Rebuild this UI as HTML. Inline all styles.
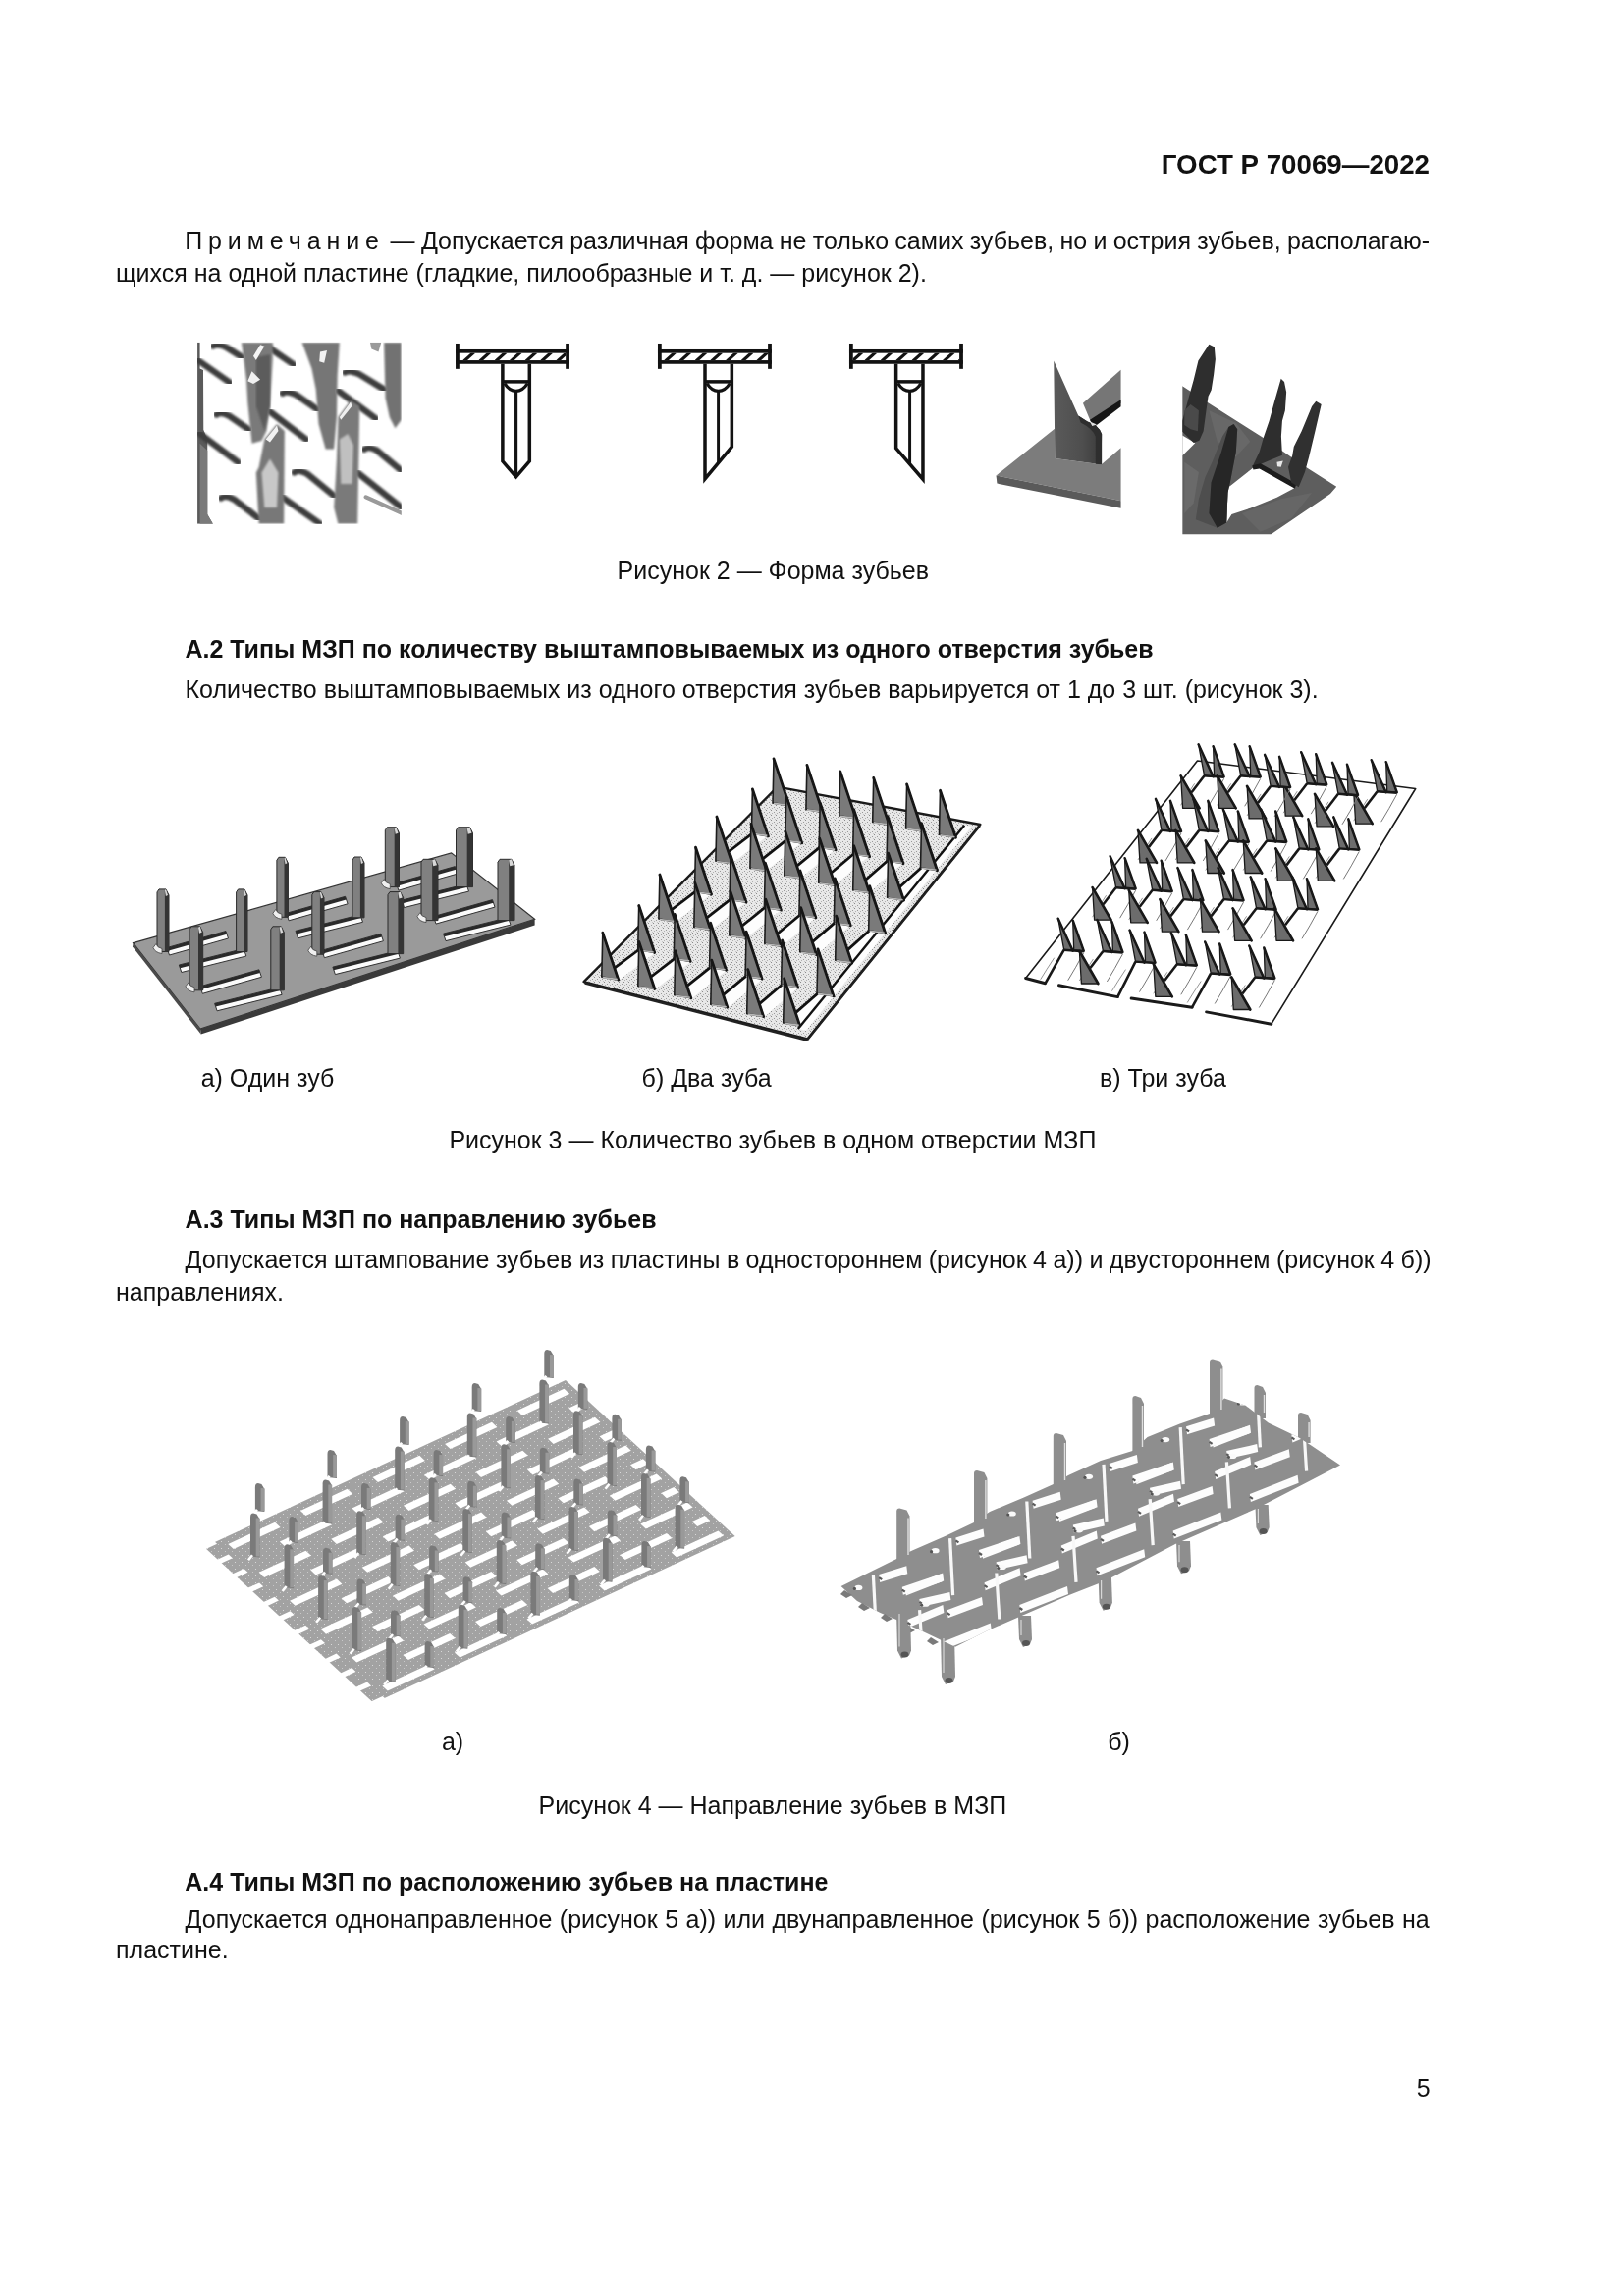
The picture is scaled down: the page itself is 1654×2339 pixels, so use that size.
<!DOCTYPE html>
<html lang="ru">
<head>
<meta charset="utf-8">
<style>
html,body{margin:0;padding:0;background:#fff;}
body{width:1654px;height:2339px;position:relative;overflow:hidden;font-family:"Liberation Sans",sans-serif;color:#111;filter:grayscale(1);}
.t{position:absolute;white-space:nowrap;font-size:25px;line-height:normal;}
.b{font-weight:bold;}
.j{text-align:justify;text-align-last:justify;white-space:normal;}
.sp{letter-spacing:7.6px;}
svg{position:absolute;overflow:visible;}
</style>
</head>
<body>
<!-- header -->
<div class="t b" id="hdr" style="font-size:27.7px;right:198px;top:151.8px;">ГОСТ Р 70069—2022</div>

<!-- note paragraph -->
<div class="t" id="p1" style="left:188.2px;top:231.4px;letter-spacing:5.89px;">Примечание</div>
<div class="t" id="p1b" style="left:397.6px;top:231.4px;word-spacing:-0.658px;">— Допускается различная форма не только самих зубьев, но и острия зубьев, располагаю-</div>
<div class="t" id="p2" style="left:118px;top:264.2px;">щихся на одной пластине (гладкие, пилообразные и т. д. — рисунок 2).</div>

<!-- FIG2 -->
<svg style="left:190px;top:340px" width="230" height="210" viewBox="0 0 1624 1483" preserveAspectRatio="none"><defs><clipPath id="ph1"><rect x="78" y="62" width="1467" height="1306"/></clipPath><filter id="bl1" x="-5%" y="-5%" width="110%" height="110%"><feGaussianBlur stdDeviation="6"/></filter></defs><g clip-path="url(#ph1)"><path d="M78,62 L96,62 L96,250 L120,262 L122,690 L150,760 L150,1300 L190,1368 L78,1368 Z" fill="#5a5a5a"/><path d="M96,790 L150,840 L150,1300 L190,1368 L96,1368 Z" fill="#7a7a7a"/><path d="M190,88 Q225,68 290,100 L400,170" fill="none" stroke="#3c3c3c" stroke-width="46" stroke-linecap="round" filter="url(#bl1)"/><path d="M560,78 L770,222" fill="none" stroke="#3c3c3c" stroke-width="46" stroke-linecap="round" filter="url(#bl1)"/><path d="M80,190 L310,350" fill="none" stroke="#3c3c3c" stroke-width="46" stroke-linecap="round" filter="url(#bl1)"/><path d="M690,428 Q720,405 790,440 L940,545" fill="none" stroke="#3c3c3c" stroke-width="46" stroke-linecap="round" filter="url(#bl1)"/><path d="M1140,278 Q1170,258 1240,290 L1420,400" fill="none" stroke="#3c3c3c" stroke-width="46" stroke-linecap="round" filter="url(#bl1)"/><path d="M215,582 Q245,558 305,590 L450,690" fill="none" stroke="#3c3c3c" stroke-width="46" stroke-linecap="round" filter="url(#bl1)"/><path d="M600,560 L860,760" fill="none" stroke="#3c3c3c" stroke-width="46" stroke-linecap="round" filter="url(#bl1)"/><path d="M1090,410 L1360,610" fill="none" stroke="#3c3c3c" stroke-width="46" stroke-linecap="round" filter="url(#bl1)"/><path d="M95,720 L370,925" fill="none" stroke="#3c3c3c" stroke-width="46" stroke-linecap="round" filter="url(#bl1)"/><path d="M775,998 Q805,972 870,1010 L1060,1165" fill="none" stroke="#3c3c3c" stroke-width="46" stroke-linecap="round" filter="url(#bl1)"/><path d="M1278,832 Q1305,805 1370,840 L1545,985" fill="none" stroke="#3c3c3c" stroke-width="46" stroke-linecap="round" filter="url(#bl1)"/><path d="M248,1182 Q275,1155 340,1190 L520,1330" fill="none" stroke="#3c3c3c" stroke-width="46" stroke-linecap="round" filter="url(#bl1)"/><path d="M680,1170 L960,1368" fill="none" stroke="#3c3c3c" stroke-width="46" stroke-linecap="round" filter="url(#bl1)"/><path d="M1230,1000 L1545,1250" fill="none" stroke="#3c3c3c" stroke-width="46" stroke-linecap="round" filter="url(#bl1)"/><path d="M1290,1175 L1545,1290" fill="none" stroke="#9a9a9a" stroke-width="30" stroke-linecap="round"/><path d="M395,62 L620,62 L620,180 L600,520 L575,700 L540,770 L470,790 L440,500 L430,330 Z" fill="#7a7a7a" filter="url(#bl1)"/><path d="M500,170 L600,150 L600,520 L560,700 L500,520 Z" fill="#5c5c5c" filter="url(#bl1)"/><path d="M440,340 L470,270 L530,330 L480,360 Z" fill="#f0f0f0"/><path d="M480,160 L530,80 L560,90 L500,190 Z" fill="#f4f4f4"/><path d="M560,760 L650,650 L705,700 L700,1368 L520,1368 L500,1000 L520,960 Z" fill="#787878" filter="url(#bl1)"/><path d="M540,1000 L600,900 L660,1000 L650,1250 L560,1250 Z" fill="#c8c8c8" filter="url(#bl1)"/><path d="M570,760 L650,660 L660,700 L600,780 Z" fill="#f2f2f2"/><path d="M830,62 L1100,62 L1085,300 L1080,600 L1060,830 L1000,830 L950,650 L930,400 L900,250 Z" fill="#767676" filter="url(#bl1)"/><path d="M960,130 L1010,120 L990,210 L955,200 Z" fill="#f2f2f2"/><path d="M1090,600 L1180,480 L1245,520 L1230,1368 L1090,1368 L1060,1250 L1080,900 Z" fill="#7a7a7a" filter="url(#bl1)"/><path d="M1100,760 L1160,720 L1200,800 L1190,1080 L1110,1080 Z" fill="#c0c0c0" filter="url(#bl1)"/><path d="M1100,600 L1180,490 L1190,520 L1110,620 Z" fill="#f0f0f0"/><path d="M1420,62 L1545,62 L1545,620 L1500,680 L1460,600 L1430,460 Z" fill="#727272" filter="url(#bl1)"/><path d="M1320,62 L1400,62 L1380,130 L1330,110 Z" fill="#9a9a9a"/></g></svg>
<svg style="left:450px;top:340px" width="150" height="160" viewBox="0 0 1624 1732" preserveAspectRatio="none"><rect x="152" y="108" width="41" height="280" fill="#121212"/><rect x="1366" y="108" width="41" height="280" fill="#121212"/><rect x="152" y="173" width="1255" height="40" fill="#121212"/><rect x="152" y="293" width="1255" height="40" fill="#121212"/><clipPath id="hc0"><rect x="193" y="213" width="1173" height="80"/></clipPath><g clip-path="url(#hc0)" stroke="#121212" stroke-width="34"><line x1="245" y1="303" x2="355" y2="203"/><line x1="420" y1="303" x2="530" y2="203"/><line x1="595" y1="303" x2="705" y2="203"/><line x1="760" y1="303" x2="870" y2="203"/><line x1="930" y1="303" x2="1040" y2="203"/><line x1="1100" y1="303" x2="1210" y2="203"/><line x1="1275" y1="303" x2="1385" y2="203"/></g><polyline points="670,333 670,1405 818.5,1578 967,1405 967,333" fill="none" stroke="#121212" stroke-width="38" stroke-linejoin="miter" stroke-miterlimit="10"/><line x1="818.5" y1="630" x2="818.5" y2="1568" stroke="#121212" stroke-width="34"/><line x1="670" y1="529" x2="967" y2="529" stroke="#121212" stroke-width="38"/><path d="M692,548 C732,612 768.5,632 818.5,632 C868.5,632 905,612 945,548" fill="none" stroke="#121212" stroke-width="34"/></svg>
<svg style="left:660px;top:340px" width="150" height="160" viewBox="0 0 1624 1732" preserveAspectRatio="none"><rect x="108" y="108" width="41" height="280" fill="#121212"/><rect x="1322" y="108" width="41" height="280" fill="#121212"/><rect x="108" y="173" width="1255" height="40" fill="#121212"/><rect x="108" y="293" width="1255" height="40" fill="#121212"/><clipPath id="hc1"><rect x="149" y="213" width="1173" height="80"/></clipPath><g clip-path="url(#hc1)" stroke="#121212" stroke-width="34"><line x1="190" y1="303" x2="300" y2="203"/><line x1="355" y1="303" x2="465" y2="203"/><line x1="530" y1="303" x2="640" y2="203"/><line x1="700" y1="303" x2="810" y2="203"/><line x1="870" y1="303" x2="980" y2="203"/><line x1="1040" y1="303" x2="1150" y2="203"/><line x1="1210" y1="303" x2="1320" y2="203"/></g><polyline points="628,333 628,1600 924,1245 924,333" fill="none" stroke="#121212" stroke-width="38" stroke-linejoin="miter" stroke-miterlimit="10"/><line x1="775" y1="630" x2="775" y2="1420" stroke="#121212" stroke-width="32"/><line x1="628" y1="529" x2="924" y2="529" stroke="#121212" stroke-width="38"/><path d="M650,548 C690,612 725,632 775,632 C825,632 862,612 902,548" fill="none" stroke="#121212" stroke-width="34"/></svg>
<svg style="left:855px;top:340px" width="150" height="160" viewBox="0 0 1624 1732" preserveAspectRatio="none"><rect x="108" y="108" width="41" height="280" fill="#121212"/><rect x="1322" y="108" width="41" height="280" fill="#121212"/><rect x="108" y="173" width="1255" height="40" fill="#121212"/><rect x="108" y="293" width="1255" height="40" fill="#121212"/><clipPath id="hc2"><rect x="149" y="213" width="1173" height="80"/></clipPath><g clip-path="url(#hc2)" stroke="#121212" stroke-width="34"><line x1="140" y1="303" x2="250" y2="203"/><line x1="290" y1="303" x2="400" y2="203"/><line x1="465" y1="303" x2="575" y2="203"/><line x1="635" y1="303" x2="745" y2="203"/><line x1="810" y1="303" x2="920" y2="203"/><line x1="980" y1="303" x2="1090" y2="203"/><line x1="1150" y1="303" x2="1260" y2="203"/><line x1="1320" y1="303" x2="1430" y2="203"/></g><polyline points="920,333 920,1605 624,1262 624,333" fill="none" stroke="#121212" stroke-width="38" stroke-linejoin="miter" stroke-miterlimit="10"/><line x1="775" y1="630" x2="775" y2="1430" stroke="#121212" stroke-width="32"/><line x1="624" y1="529" x2="920" y2="529" stroke="#121212" stroke-width="38"/><path d="M646,548 C686,612 725,632 775,632 C825,632 858,612 898,548" fill="none" stroke="#121212" stroke-width="34"/></svg>
<svg style="left:1000px;top:330px" width="380" height="230" viewBox="0 0 1624 983" preserveAspectRatio="none"><defs><linearGradient id="g5t" x1="0" y1="0" x2="1" y2="0"><stop offset="0" stop-color="#5a5a5a"/><stop offset="0.6" stop-color="#4e4e4e"/><stop offset="1" stop-color="#3a3a3a"/></linearGradient></defs><path d="M440,345 L605,200 L605,345 L480,440 Z" fill="#767676"/><path d="M470,418 L605,330 L605,360 L490,448 Z" fill="#161616"/><path d="M62,660 L318,455 L318,585 L520,612 L605,540 L605,770 Z" fill="#7c7c7c"/><path d="M62,660 L605,770 L605,802 L66,695 Z" fill="#5a5a5a"/><path d="M313,160 L318,585 L520,612 L522,480 Q510,440 460,425 L420,400 Z" fill="url(#g5t)"/><path d="M420,400 L460,425 Q510,440 522,480 L522,612 L495,610 L495,490 Q480,455 430,430 Z" fill="#2e2e2e"/><path d="M470,425 L480,445 L500,438 Z" fill="#e0e0e0"/></svg>
<svg style="left:1200px;top:345px" width="170" height="205" viewBox="0 0 1624 1958" preserveAspectRatio="none"><defs><clipPath id="c6"><rect x="40" y="40" width="1520" height="1866"/></clipPath></defs><g clip-path="url(#c6)"><path d="M40,460 L300,630 L820,960 L1240,1250 L1540,1440 L1480,1510 L900,1906 L40,1906 Z" fill="#5e5e5e"/><path d="M300,700 L560,820 L700,1000 L560,1150 L380,1000 Z" fill="#686868"/><path d="M620,1700 L1000,1560 L1300,1500 L1100,1750 L800,1880 Z" fill="#666"/><path d="M60,1200 L200,1300 L150,1600 L60,1700 Z" fill="#6a6a6a"/><path d="M40,940 L165,1015 L40,1140 Z" fill="#fff"/><path d="M485,1450 L730,1255 L790,1250 L1135,1452 L960,1545 L700,1650 L520,1710 L470,1790 Z" fill="#fff"/><path d="M40,905 L40,800 L95,600 L150,400 L195,215 L300,55 L352,80 L362,200 L345,350 L322,500 L292,560 L272,700 L245,900 L205,990 L150,1012 Z" fill="#2e2e2e"/><path d="M60,700 L120,640 L200,700 L190,900 L120,880 L60,840 Z" fill="#4a4a4a"/><path d="M490,860 L540,830 L575,880 L562,1100 L505,1400 L482,1500 L470,1790 L380,1840 L170,1760 L200,1560 L262,1350 L335,1190 L430,950 Z" fill="#4e4e4e"/><path d="M490,860 L540,830 L575,880 L562,1100 L505,1400 L482,1500 L470,1790 L380,1840 L300,1700 L320,1400 L420,1100 Z" fill="#262626"/><path d="M1000,390 L1032,420 L1052,520 L1040,700 L1012,800 L1002,950 L1012,1135 L900,1180 L760,1240 L720,1250 L790,1100 L830,960 L885,800 L940,600 Z" fill="#2e2e2e"/><path d="M720,1235 L800,1215 L1150,1410 L1135,1460 L790,1265 L730,1275 Z" fill="#1c1c1c"/><path d="M960,1200 L1020,1190 L1000,1250 L965,1245 Z" fill="#e8e8e8"/><path d="M1340,610 L1392,640 L1332,900 L1272,1150 L1232,1300 L1172,1445 L1100,1400 L1070,1250 L1110,1140 L1125,1050 L1200,900 L1300,660 Z" fill="#303030"/></g></svg>


<div class="t" id="c2" style="left:628.6px;top:567.4px;">Рисунок 2 — Форма зубьев</div>

<div class="t b" id="h2" style="left:188.4px;top:647px;">А.2 Типы МЗП по количеству выштамповываемых из одного отверстия зубьев</div>
<div class="t" id="p3" style="left:188.5px;top:687.7px;">Количество выштамповываемых из одного отверстия зубьев варьируется от 1 до 3 шт. (рисунок 3).</div>

<!-- FIG3 -->
<svg style="left:120px;top:830px" width="440" height="240" viewBox="120 830 440 240"><polygon points="135.6,960.7 459.6,868.9 544.6,936.2 204.0,1048.1" fill="#9a9a9a" stroke="#333" stroke-width="1.2"/><polygon points="204.0,1048.1 544.6,936.2 544.6,942.5 204.7,1053.5" fill="#3a3a3a"/><polygon points="135.6,960.7 204.0,1048.1 204.7,1053.5 135.0,964.5" fill="#4a4a4a"/><polygon points="170.0,965.5 230.0,948.5 232.5,956.0 172.5,973.0" fill="#fbfbfb" stroke="#333" stroke-width="1" stroke-linejoin="round"/><polygon points="170.0,965.5 230.0,948.5 231.0,951.7 171.0,968.7" fill="#2a2a2a"/><polygon points="182.3,983.0 248.3,966.5 250.8,974.0 184.8,990.5" fill="#fbfbfb" stroke="#333" stroke-width="1" stroke-linejoin="round"/><polygon points="182.3,983.0 248.3,966.5 249.3,969.7 183.3,986.2" fill="#2a2a2a"/><polygon points="203.8,1004.8 263.9,987.8 266.4,995.3 206.3,1012.3" fill="#fbfbfb" stroke="#333" stroke-width="1" stroke-linejoin="round"/><polygon points="203.8,1004.8 263.9,987.8 264.9,991.0 204.8,1008.0" fill="#2a2a2a"/><polygon points="218.6,1022.3 284.6,1005.8 287.1,1013.3 221.1,1029.8" fill="#fbfbfb" stroke="#333" stroke-width="1" stroke-linejoin="round"/><polygon points="218.6,1022.3 284.6,1005.8 285.6,1009.0 219.6,1025.5" fill="#2a2a2a"/><polygon points="291.6,930.3 351.6,913.3 354.1,920.8 294.1,937.8" fill="#fbfbfb" stroke="#333" stroke-width="1" stroke-linejoin="round"/><polygon points="291.6,930.3 351.6,913.3 352.6,916.5 292.6,933.5" fill="#2a2a2a"/><polygon points="301.0,948.3 367.0,931.8 369.5,939.3 303.5,955.8" fill="#fbfbfb" stroke="#333" stroke-width="1" stroke-linejoin="round"/><polygon points="301.0,948.3 367.0,931.8 368.0,935.0 302.0,951.5" fill="#2a2a2a"/><polygon points="327.9,968.2 387.9,951.2 390.4,958.7 330.4,975.7" fill="#fbfbfb" stroke="#333" stroke-width="1" stroke-linejoin="round"/><polygon points="327.9,968.2 387.9,951.2 388.9,954.4 328.9,971.4" fill="#2a2a2a"/><polygon points="338.9,985.1 404.9,968.6 407.4,976.1 341.4,992.6" fill="#fbfbfb" stroke="#333" stroke-width="1" stroke-linejoin="round"/><polygon points="338.9,985.1 404.9,968.6 405.9,971.8 339.9,988.3" fill="#2a2a2a"/><polygon points="403.4,899.6 463.4,882.6 465.9,890.1 405.9,907.1" fill="#fbfbfb" stroke="#333" stroke-width="1" stroke-linejoin="round"/><polygon points="403.4,899.6 463.4,882.6 464.4,885.8 404.4,902.8" fill="#2a2a2a"/><polygon points="409.0,917.1 475.0,900.6 477.5,908.1 411.5,924.6" fill="#fbfbfb" stroke="#333" stroke-width="1" stroke-linejoin="round"/><polygon points="409.0,917.1 475.0,900.6 476.0,903.8 410.0,920.3" fill="#2a2a2a"/><polygon points="441.5,933.6 501.5,916.6 504.0,924.1 444.0,941.1" fill="#fbfbfb" stroke="#333" stroke-width="1" stroke-linejoin="round"/><polygon points="441.5,933.6 501.5,916.6 502.5,919.8 442.5,936.8" fill="#2a2a2a"/><polygon points="451.5,951.1 517.5,934.6 520.0,942.1 454.0,958.6" fill="#fbfbfb" stroke="#333" stroke-width="1" stroke-linejoin="round"/><polygon points="451.5,951.1 517.5,934.6 518.5,937.8 452.5,954.3" fill="#2a2a2a"/><polygon points="160.0,908.9 162.0,905.9 169.0,905.9 172.0,911.9 172.0,969.5 160.0,969.5" fill="#808080" stroke="#2a2a2a" stroke-width="1"/><polygon points="167.9,906.9 169.0,905.9 172.0,911.9 172.0,969.5 167.9,969.5" fill="#343434"/><polygon points="167.9,906.9 169.0,905.9 171.0,911.9 168.9,912.9" fill="#d8d8d8"/><path d="M156,965.5 Q158,970.5 165,971.5 L165,966.5 Q160,965.5 159,961.5 Z" fill="#f0f0f0" stroke="#444" stroke-width="0.8"/><polygon points="240.6,908.9 242.6,905.9 249.0,905.9 252.0,911.9 252.0,969.5 240.6,969.5" fill="#808080" stroke="#2a2a2a" stroke-width="1"/><polygon points="248.1,906.9 249.0,905.9 252.0,911.9 252.0,969.5 248.1,969.5" fill="#343434"/><polygon points="248.1,906.9 249.0,905.9 251.0,911.9 249.1,912.9" fill="#d8d8d8"/><polygon points="193.0,946.8 195.0,943.8 203.7,943.8 206.7,949.8 206.7,1008.8 193.0,1008.8" fill="#808080" stroke="#2a2a2a" stroke-width="1"/><polygon points="202.0,944.8 203.7,943.8 206.7,949.8 206.7,1008.8 202.0,1008.8" fill="#343434"/><polygon points="202.0,944.8 203.7,943.8 205.7,949.8 203.0,950.8" fill="#d8d8d8"/><path d="M189,1004.8 Q191,1009.8 198,1010.8 L198,1005.8 Q193,1004.8 192,1000.8 Z" fill="#f0f0f0" stroke="#444" stroke-width="0.8"/><polygon points="275.8,946.8 277.8,943.8 286.3,943.8 289.3,949.8 289.3,1008.8 275.8,1008.8" fill="#808080" stroke="#2a2a2a" stroke-width="1"/><polygon points="284.7,944.8 286.3,943.8 289.3,949.8 289.3,1008.8 284.7,1008.8" fill="#343434"/><polygon points="284.7,944.8 286.3,943.8 288.3,949.8 285.7,950.8" fill="#d8d8d8"/><polygon points="281.9,876.3 283.9,873.3 290.4,873.3 293.4,879.3 293.4,934.3 281.9,934.3" fill="#808080" stroke="#2a2a2a" stroke-width="1"/><polygon points="289.5,874.3 290.4,873.3 293.4,879.3 293.4,934.3 289.5,934.3" fill="#343434"/><polygon points="289.5,874.3 290.4,873.3 292.4,879.3 290.5,880.3" fill="#d8d8d8"/><path d="M277.9,930.3 Q279.9,935.3 286.9,936.3 L286.9,931.3 Q281.9,930.3 280.9,926.3 Z" fill="#f0f0f0" stroke="#444" stroke-width="0.8"/><polygon points="359.0,876.0 361.0,873.0 368.0,873.0 371.0,879.0 371.0,934.8 359.0,934.8" fill="#808080" stroke="#2a2a2a" stroke-width="1"/><polygon points="366.9,874.0 368.0,873.0 371.0,879.0 371.0,934.8 366.9,934.8" fill="#343434"/><polygon points="366.9,874.0 368.0,873.0 370.0,879.0 367.9,880.0" fill="#d8d8d8"/><polygon points="317.8,911.6 319.8,908.6 327.0,908.6 330.0,914.6 330.0,972.2 317.8,972.2" fill="#808080" stroke="#2a2a2a" stroke-width="1"/><polygon points="325.9,909.6 327.0,908.6 330.0,914.6 330.0,972.2 325.9,972.2" fill="#343434"/><polygon points="325.9,909.6 327.0,908.6 329.0,914.6 326.9,915.6" fill="#d8d8d8"/><path d="M313.8,968.2 Q315.8,973.2 322.8,974.2 L322.8,969.2 Q317.8,968.2 316.8,964.2 Z" fill="#f0f0f0" stroke="#444" stroke-width="0.8"/><polygon points="395.0,911.6 397.0,908.6 407.7,908.6 410.7,914.6 410.7,971.6 395.0,971.6" fill="#808080" stroke="#2a2a2a" stroke-width="1"/><polygon points="405.4,909.6 407.7,908.6 410.7,914.6 410.7,971.6 405.4,971.6" fill="#343434"/><polygon points="405.4,909.6 407.7,908.6 409.7,914.6 406.4,915.6" fill="#d8d8d8"/><polygon points="392.3,845.7 394.3,842.7 403.5,842.7 406.5,848.7 406.5,903.6 392.3,903.6" fill="#808080" stroke="#2a2a2a" stroke-width="1"/><polygon points="401.7,843.7 403.5,842.7 406.5,848.7 406.5,903.6 401.7,903.6" fill="#343434"/><polygon points="401.7,843.7 403.5,842.7 405.5,848.7 402.7,849.7" fill="#d8d8d8"/><path d="M388.3,899.6 Q390.3,904.6 397.3,905.6 L397.3,900.6 Q392.3,899.6 391.3,895.6 Z" fill="#f0f0f0" stroke="#444" stroke-width="0.8"/><polygon points="464.5,845.7 466.5,842.7 478.5,842.7 481.5,848.7 481.5,903.6 464.5,903.6" fill="#808080" stroke="#2a2a2a" stroke-width="1"/><polygon points="475.7,843.7 478.5,842.7 481.5,848.7 481.5,903.6 475.7,903.6" fill="#343434"/><polygon points="475.7,843.7 478.5,842.7 480.5,848.7 476.7,849.7" fill="#d8d8d8"/><polygon points="429.0,878.3 431.0,875.3 443.0,875.3 446.0,881.3 446.0,937.6 429.0,937.6" fill="#808080" stroke="#2a2a2a" stroke-width="1"/><polygon points="440.2,876.3 443.0,875.3 446.0,881.3 446.0,937.6 440.2,937.6" fill="#343434"/><polygon points="440.2,876.3 443.0,875.3 445.0,881.3 441.2,882.3" fill="#d8d8d8"/><path d="M425,933.6 Q427,938.6 434,939.6 L434,934.6 Q429,933.6 428,929.6 Z" fill="#f0f0f0" stroke="#444" stroke-width="0.8"/><polygon points="507.0,878.3 509.0,875.3 521.0,875.3 524.0,881.3 524.0,937.6 507.0,937.6" fill="#808080" stroke="#2a2a2a" stroke-width="1"/><polygon points="518.2,876.3 521.0,875.3 524.0,881.3 524.0,937.6 518.2,937.6" fill="#343434"/><polygon points="518.2,876.3 521.0,875.3 523.0,881.3 519.2,882.3" fill="#d8d8d8"/></svg>
<svg style="left:580px;top:750px" width="430" height="320" viewBox="580 750 430 320"><defs><pattern id="st3b" width="5" height="5" patternUnits="userSpaceOnUse"><rect width="5" height="5" fill="#e8e8e8"/><rect x="0" y="0" width="1" height="1" fill="#8a8a8a"/><rect x="3" y="2" width="1" height="1" fill="#9a9a9a"/><rect x="1" y="3" width="1" height="1" fill="#b0b0b0"/><rect x="4" y="4" width="1" height="1" fill="#c4c4c4"/></pattern></defs><polygon points="594.6,1000.2 791.8,801.6 998.3,840.0 822.3,1058.4" fill="url(#st3b)" stroke="#1a1a1a" stroke-width="2.4" stroke-linejoin="round"/><polygon points="594.6,1000.2 822.3,1058.4 822.3,1060.9 595.6,1002.7" fill="#222"/><polygon points="822.3,1058.4 998.3,840.0 998.3,842.5 822.3,1060.9" fill="#222"/><polygon points="613.8,995.1 650.7,967.5 666.3,971.3 629.7,999.1" fill="#fdfdfd"/><line x1="613.8" y1="995.1" x2="650.7" y2="967.5" stroke="#111" stroke-width="2.8"/><polygon points="671.9,936.0 708.5,908.2 723.7,911.6 687.3,939.7" fill="#fdfdfd"/><line x1="671.9" y1="936.0" x2="708.5" y2="908.2" stroke="#111" stroke-width="2.8"/><polygon points="729.9,877.0 766.4,848.9 781.1,851.9 744.9,880.2" fill="#fdfdfd"/><line x1="729.9" y1="877.0" x2="766.4" y2="848.9" stroke="#111" stroke-width="2.8"/><polygon points="650.8,1004.5 687.2,976.4 702.8,980.2 666.7,1008.5" fill="#fdfdfd"/><line x1="650.8" y1="1004.5" x2="687.2" y2="976.4" stroke="#111" stroke-width="2.8"/><polygon points="707.8,944.4 744.0,916.1 759.2,919.5 723.3,948.1" fill="#fdfdfd"/><line x1="707.8" y1="944.4" x2="744.0" y2="916.1" stroke="#111" stroke-width="2.8"/><polygon points="764.9,884.4 800.8,855.9 815.6,858.9 779.9,887.6" fill="#fdfdfd"/><line x1="764.9" y1="884.4" x2="800.8" y2="855.9" stroke="#111" stroke-width="2.8"/><polygon points="687.8,1013.8 723.6,985.3 739.3,989.1 703.7,1017.9" fill="#fdfdfd"/><line x1="687.8" y1="1013.8" x2="723.6" y2="985.3" stroke="#111" stroke-width="2.8"/><polygon points="743.8,952.9 779.4,924.1 794.6,927.5 759.2,956.5" fill="#fdfdfd"/><line x1="743.8" y1="952.9" x2="779.4" y2="924.1" stroke="#111" stroke-width="2.8"/><polygon points="799.8,891.9 835.2,862.9 850.0,865.9 814.8,895.1" fill="#fdfdfd"/><line x1="799.8" y1="891.9" x2="835.2" y2="862.9" stroke="#111" stroke-width="2.8"/><polygon points="724.8,1023.2 760.1,994.1 775.7,997.9 740.6,1027.2" fill="#fdfdfd"/><line x1="724.8" y1="1023.2" x2="760.1" y2="994.1" stroke="#111" stroke-width="2.8"/><polygon points="779.8,961.3 814.9,932.0 830.1,935.4 795.2,964.9" fill="#fdfdfd"/><line x1="779.8" y1="961.3" x2="814.9" y2="932.0" stroke="#111" stroke-width="2.8"/><polygon points="834.7,899.3 869.6,869.8 884.4,872.8 849.7,902.5" fill="#fdfdfd"/><line x1="834.7" y1="899.3" x2="869.6" y2="869.8" stroke="#111" stroke-width="2.8"/><polygon points="761.7,1032.6 796.6,1003.0 812.2,1006.8 777.6,1036.6" fill="#fdfdfd"/><line x1="761.7" y1="1032.6" x2="796.6" y2="1003.0" stroke="#111" stroke-width="2.8"/><polygon points="815.7,969.7 850.3,939.9 865.5,943.3 831.1,973.3" fill="#fdfdfd"/><line x1="815.7" y1="969.7" x2="850.3" y2="939.9" stroke="#111" stroke-width="2.8"/><polygon points="869.7,906.8 904.0,876.8 918.8,879.8 884.7,910.0" fill="#fdfdfd"/><line x1="869.7" y1="906.8" x2="904.0" y2="876.8" stroke="#111" stroke-width="2.8"/><polygon points="798.7,1041.9 833.0,1011.9 848.7,1015.7 814.6,1045.9" fill="#fdfdfd"/><line x1="798.7" y1="1041.9" x2="833.0" y2="1011.9" stroke="#111" stroke-width="2.8"/><polygon points="851.7,978.1 885.7,947.8 901.0,951.2 867.1,981.7" fill="#fdfdfd"/><line x1="851.7" y1="978.1" x2="885.7" y2="947.8" stroke="#111" stroke-width="2.8"/><polygon points="904.6,914.2 938.5,883.8 953.2,886.8 919.6,917.4" fill="#fdfdfd"/><line x1="904.6" y1="914.2" x2="938.5" y2="883.8" stroke="#111" stroke-width="2.8"/><polygon points="812.8,1048.1 982.2,840.8 989.5,842.1 820.8,1050.1" fill="#fdfdfd"/><line x1="812.8" y1="1048.1" x2="982.2" y2="840.8" stroke="#111" stroke-width="2.4"/><polygon points="788.0,772.9 787.0,817.9 804.0,820.9" fill="#7a7a7a" stroke="#1c1c1c" stroke-width="1.6" stroke-linejoin="round"/><line x1="788.0" y1="772.9" x2="804.0" y2="820.9" stroke="#161616" stroke-width="2.8" stroke-linecap="round"/><line x1="788.0" y1="818.4" x2="803.0" y2="820.4" stroke="#b8b8b8" stroke-width="1.6"/><polygon points="821.9,779.4 820.9,824.4 837.9,827.4" fill="#7a7a7a" stroke="#1c1c1c" stroke-width="1.6" stroke-linejoin="round"/><line x1="821.9" y1="779.4" x2="837.9" y2="827.4" stroke="#161616" stroke-width="2.8" stroke-linecap="round"/><line x1="821.9" y1="824.9" x2="836.9" y2="826.9" stroke="#b8b8b8" stroke-width="1.6"/><polygon points="855.8,785.9 854.8,830.9 871.8,833.9" fill="#7a7a7a" stroke="#1c1c1c" stroke-width="1.6" stroke-linejoin="round"/><line x1="855.8" y1="785.9" x2="871.8" y2="833.9" stroke="#161616" stroke-width="2.8" stroke-linecap="round"/><line x1="855.8" y1="831.4" x2="870.8" y2="833.4" stroke="#b8b8b8" stroke-width="1.6"/><polygon points="889.7,792.4 888.7,837.4 905.7,840.4" fill="#7a7a7a" stroke="#1c1c1c" stroke-width="1.6" stroke-linejoin="round"/><line x1="889.7" y1="792.4" x2="905.7" y2="840.4" stroke="#161616" stroke-width="2.8" stroke-linecap="round"/><line x1="889.7" y1="837.9" x2="904.7" y2="839.9" stroke="#b8b8b8" stroke-width="1.6"/><polygon points="923.6,798.9 922.6,843.9 939.6,846.9" fill="#7a7a7a" stroke="#1c1c1c" stroke-width="1.6" stroke-linejoin="round"/><line x1="923.6" y1="798.9" x2="939.6" y2="846.9" stroke="#161616" stroke-width="2.8" stroke-linecap="round"/><line x1="923.6" y1="844.4" x2="938.6" y2="846.4" stroke="#b8b8b8" stroke-width="1.6"/><polygon points="766.4,803.9 765.4,848.9 782.4,851.9" fill="#7a7a7a" stroke="#1c1c1c" stroke-width="1.6" stroke-linejoin="round"/><line x1="766.4" y1="803.9" x2="782.4" y2="851.9" stroke="#161616" stroke-width="2.8" stroke-linecap="round"/><line x1="766.4" y1="849.4" x2="781.4" y2="851.4" stroke="#b8b8b8" stroke-width="1.6"/><polygon points="957.5,805.3 956.5,850.3 973.5,853.3" fill="#7a7a7a" stroke="#1c1c1c" stroke-width="1.6" stroke-linejoin="round"/><line x1="957.5" y1="805.3" x2="973.5" y2="853.3" stroke="#161616" stroke-width="2.8" stroke-linecap="round"/><line x1="957.5" y1="850.8" x2="972.5" y2="852.8" stroke="#b8b8b8" stroke-width="1.6"/><polygon points="800.8,810.9 799.8,855.9 816.8,858.9" fill="#7a7a7a" stroke="#1c1c1c" stroke-width="1.6" stroke-linejoin="round"/><line x1="800.8" y1="810.9" x2="816.8" y2="858.9" stroke="#161616" stroke-width="2.8" stroke-linecap="round"/><line x1="800.8" y1="856.4" x2="815.8" y2="858.4" stroke="#b8b8b8" stroke-width="1.6"/><polygon points="835.2,817.9 834.2,862.9 851.2,865.9" fill="#7a7a7a" stroke="#1c1c1c" stroke-width="1.6" stroke-linejoin="round"/><line x1="835.2" y1="817.9" x2="851.2" y2="865.9" stroke="#161616" stroke-width="2.8" stroke-linecap="round"/><line x1="835.2" y1="863.4" x2="850.2" y2="865.4" stroke="#b8b8b8" stroke-width="1.6"/><polygon points="869.6,824.8 868.6,869.8 885.6,872.8" fill="#7a7a7a" stroke="#1c1c1c" stroke-width="1.6" stroke-linejoin="round"/><line x1="869.6" y1="824.8" x2="885.6" y2="872.8" stroke="#161616" stroke-width="2.8" stroke-linecap="round"/><line x1="869.6" y1="870.3" x2="884.6" y2="872.3" stroke="#b8b8b8" stroke-width="1.6"/><polygon points="904.0,831.8 903.0,876.8 920.0,879.8" fill="#7a7a7a" stroke="#1c1c1c" stroke-width="1.6" stroke-linejoin="round"/><line x1="904.0" y1="831.8" x2="920.0" y2="879.8" stroke="#161616" stroke-width="2.8" stroke-linecap="round"/><line x1="904.0" y1="877.3" x2="919.0" y2="879.3" stroke="#b8b8b8" stroke-width="1.6"/><polygon points="729.9,832.0 728.9,877.0 745.9,880.0" fill="#7a7a7a" stroke="#1c1c1c" stroke-width="1.6" stroke-linejoin="round"/><line x1="729.9" y1="832.0" x2="745.9" y2="880.0" stroke="#161616" stroke-width="2.8" stroke-linecap="round"/><line x1="729.9" y1="877.5" x2="744.9" y2="879.5" stroke="#b8b8b8" stroke-width="1.6"/><polygon points="938.5,838.8 937.5,883.8 954.5,886.8" fill="#7a7a7a" stroke="#1c1c1c" stroke-width="1.6" stroke-linejoin="round"/><line x1="938.5" y1="838.8" x2="954.5" y2="886.8" stroke="#161616" stroke-width="2.8" stroke-linecap="round"/><line x1="938.5" y1="884.3" x2="953.5" y2="886.3" stroke="#b8b8b8" stroke-width="1.6"/><polygon points="764.9,839.4 763.9,884.4 780.9,887.4" fill="#7a7a7a" stroke="#1c1c1c" stroke-width="1.6" stroke-linejoin="round"/><line x1="764.9" y1="839.4" x2="780.9" y2="887.4" stroke="#161616" stroke-width="2.8" stroke-linecap="round"/><line x1="764.9" y1="884.9" x2="779.9" y2="886.9" stroke="#b8b8b8" stroke-width="1.6"/><polygon points="799.8,846.9 798.8,891.9 815.8,894.9" fill="#7a7a7a" stroke="#1c1c1c" stroke-width="1.6" stroke-linejoin="round"/><line x1="799.8" y1="846.9" x2="815.8" y2="894.9" stroke="#161616" stroke-width="2.8" stroke-linecap="round"/><line x1="799.8" y1="892.4" x2="814.8" y2="894.4" stroke="#b8b8b8" stroke-width="1.6"/><polygon points="834.7,854.3 833.7,899.3 850.7,902.3" fill="#7a7a7a" stroke="#1c1c1c" stroke-width="1.6" stroke-linejoin="round"/><line x1="834.7" y1="854.3" x2="850.7" y2="902.3" stroke="#161616" stroke-width="2.8" stroke-linecap="round"/><line x1="834.7" y1="899.8" x2="849.7" y2="901.8" stroke="#b8b8b8" stroke-width="1.6"/><polygon points="869.7,861.8 868.7,906.8 885.7,909.8" fill="#7a7a7a" stroke="#1c1c1c" stroke-width="1.6" stroke-linejoin="round"/><line x1="869.7" y1="861.8" x2="885.7" y2="909.8" stroke="#161616" stroke-width="2.8" stroke-linecap="round"/><line x1="869.7" y1="907.3" x2="884.7" y2="909.3" stroke="#b8b8b8" stroke-width="1.6"/><polygon points="708.5,863.2 707.5,908.2 724.5,911.2" fill="#7a7a7a" stroke="#1c1c1c" stroke-width="1.6" stroke-linejoin="round"/><line x1="708.5" y1="863.2" x2="724.5" y2="911.2" stroke="#161616" stroke-width="2.8" stroke-linecap="round"/><line x1="708.5" y1="908.7" x2="723.5" y2="910.7" stroke="#b8b8b8" stroke-width="1.6"/><polygon points="904.6,869.2 903.6,914.2 920.6,917.2" fill="#7a7a7a" stroke="#1c1c1c" stroke-width="1.6" stroke-linejoin="round"/><line x1="904.6" y1="869.2" x2="920.6" y2="917.2" stroke="#161616" stroke-width="2.8" stroke-linecap="round"/><line x1="904.6" y1="914.7" x2="919.6" y2="916.7" stroke="#b8b8b8" stroke-width="1.6"/><polygon points="744.0,871.1 743.0,916.1 760.0,919.1" fill="#7a7a7a" stroke="#1c1c1c" stroke-width="1.6" stroke-linejoin="round"/><line x1="744.0" y1="871.1" x2="760.0" y2="919.1" stroke="#161616" stroke-width="2.8" stroke-linecap="round"/><line x1="744.0" y1="916.6" x2="759.0" y2="918.6" stroke="#b8b8b8" stroke-width="1.6"/><polygon points="779.4,879.1 778.4,924.1 795.4,927.1" fill="#7a7a7a" stroke="#1c1c1c" stroke-width="1.6" stroke-linejoin="round"/><line x1="779.4" y1="879.1" x2="795.4" y2="927.1" stroke="#161616" stroke-width="2.8" stroke-linecap="round"/><line x1="779.4" y1="924.6" x2="794.4" y2="926.6" stroke="#b8b8b8" stroke-width="1.6"/><polygon points="814.9,887.0 813.9,932.0 830.9,935.0" fill="#7a7a7a" stroke="#1c1c1c" stroke-width="1.6" stroke-linejoin="round"/><line x1="814.9" y1="887.0" x2="830.9" y2="935.0" stroke="#161616" stroke-width="2.8" stroke-linecap="round"/><line x1="814.9" y1="932.5" x2="829.9" y2="934.5" stroke="#b8b8b8" stroke-width="1.6"/><polygon points="671.9,891.0 670.9,936.0 687.9,939.0" fill="#7a7a7a" stroke="#1c1c1c" stroke-width="1.6" stroke-linejoin="round"/><line x1="671.9" y1="891.0" x2="687.9" y2="939.0" stroke="#161616" stroke-width="2.8" stroke-linecap="round"/><line x1="671.9" y1="936.5" x2="686.9" y2="938.5" stroke="#b8b8b8" stroke-width="1.6"/><polygon points="850.3,894.9 849.3,939.9 866.3,942.9" fill="#7a7a7a" stroke="#1c1c1c" stroke-width="1.6" stroke-linejoin="round"/><line x1="850.3" y1="894.9" x2="866.3" y2="942.9" stroke="#161616" stroke-width="2.8" stroke-linecap="round"/><line x1="850.3" y1="940.4" x2="865.3" y2="942.4" stroke="#b8b8b8" stroke-width="1.6"/><polygon points="707.8,899.4 706.8,944.4 723.8,947.4" fill="#7a7a7a" stroke="#1c1c1c" stroke-width="1.6" stroke-linejoin="round"/><line x1="707.8" y1="899.4" x2="723.8" y2="947.4" stroke="#161616" stroke-width="2.8" stroke-linecap="round"/><line x1="707.8" y1="944.9" x2="722.8" y2="946.9" stroke="#b8b8b8" stroke-width="1.6"/><polygon points="885.7,902.8 884.7,947.8 901.7,950.8" fill="#7a7a7a" stroke="#1c1c1c" stroke-width="1.6" stroke-linejoin="round"/><line x1="885.7" y1="902.8" x2="901.7" y2="950.8" stroke="#161616" stroke-width="2.8" stroke-linecap="round"/><line x1="885.7" y1="948.3" x2="900.7" y2="950.3" stroke="#b8b8b8" stroke-width="1.6"/><polygon points="743.8,907.9 742.8,952.9 759.8,955.9" fill="#7a7a7a" stroke="#1c1c1c" stroke-width="1.6" stroke-linejoin="round"/><line x1="743.8" y1="907.9" x2="759.8" y2="955.9" stroke="#161616" stroke-width="2.8" stroke-linecap="round"/><line x1="743.8" y1="953.4" x2="758.8" y2="955.4" stroke="#b8b8b8" stroke-width="1.6"/><polygon points="779.8,916.3 778.8,961.3 795.8,964.3" fill="#7a7a7a" stroke="#1c1c1c" stroke-width="1.6" stroke-linejoin="round"/><line x1="779.8" y1="916.3" x2="795.8" y2="964.3" stroke="#161616" stroke-width="2.8" stroke-linecap="round"/><line x1="779.8" y1="961.8" x2="794.8" y2="963.8" stroke="#b8b8b8" stroke-width="1.6"/><polygon points="650.7,922.5 649.7,967.5 666.7,970.5" fill="#7a7a7a" stroke="#1c1c1c" stroke-width="1.6" stroke-linejoin="round"/><line x1="650.7" y1="922.5" x2="666.7" y2="970.5" stroke="#161616" stroke-width="2.8" stroke-linecap="round"/><line x1="650.7" y1="968.0" x2="665.7" y2="970.0" stroke="#b8b8b8" stroke-width="1.6"/><polygon points="815.7,924.7 814.7,969.7 831.7,972.7" fill="#7a7a7a" stroke="#1c1c1c" stroke-width="1.6" stroke-linejoin="round"/><line x1="815.7" y1="924.7" x2="831.7" y2="972.7" stroke="#161616" stroke-width="2.8" stroke-linecap="round"/><line x1="815.7" y1="970.2" x2="830.7" y2="972.2" stroke="#b8b8b8" stroke-width="1.6"/><polygon points="687.2,931.4 686.2,976.4 703.2,979.4" fill="#7a7a7a" stroke="#1c1c1c" stroke-width="1.6" stroke-linejoin="round"/><line x1="687.2" y1="931.4" x2="703.2" y2="979.4" stroke="#161616" stroke-width="2.8" stroke-linecap="round"/><line x1="687.2" y1="976.9" x2="702.2" y2="978.9" stroke="#b8b8b8" stroke-width="1.6"/><polygon points="851.7,933.1 850.7,978.1 867.7,981.1" fill="#7a7a7a" stroke="#1c1c1c" stroke-width="1.6" stroke-linejoin="round"/><line x1="851.7" y1="933.1" x2="867.7" y2="981.1" stroke="#161616" stroke-width="2.8" stroke-linecap="round"/><line x1="851.7" y1="978.6" x2="866.7" y2="980.6" stroke="#b8b8b8" stroke-width="1.6"/><polygon points="723.6,940.3 722.6,985.3 739.6,988.3" fill="#7a7a7a" stroke="#1c1c1c" stroke-width="1.6" stroke-linejoin="round"/><line x1="723.6" y1="940.3" x2="739.6" y2="988.3" stroke="#161616" stroke-width="2.8" stroke-linecap="round"/><line x1="723.6" y1="985.8" x2="738.6" y2="987.8" stroke="#b8b8b8" stroke-width="1.6"/><polygon points="760.1,949.1 759.1,994.1 776.1,997.1" fill="#7a7a7a" stroke="#1c1c1c" stroke-width="1.6" stroke-linejoin="round"/><line x1="760.1" y1="949.1" x2="776.1" y2="997.1" stroke="#161616" stroke-width="2.8" stroke-linecap="round"/><line x1="760.1" y1="994.6" x2="775.1" y2="996.6" stroke="#b8b8b8" stroke-width="1.6"/><polygon points="613.8,950.1 612.8,995.1 629.8,998.1" fill="#7a7a7a" stroke="#1c1c1c" stroke-width="1.6" stroke-linejoin="round"/><line x1="613.8" y1="950.1" x2="629.8" y2="998.1" stroke="#161616" stroke-width="2.8" stroke-linecap="round"/><line x1="613.8" y1="995.6" x2="628.8" y2="997.6" stroke="#b8b8b8" stroke-width="1.6"/><polygon points="796.6,958.0 795.6,1003.0 812.6,1006.0" fill="#7a7a7a" stroke="#1c1c1c" stroke-width="1.6" stroke-linejoin="round"/><line x1="796.6" y1="958.0" x2="812.6" y2="1006.0" stroke="#161616" stroke-width="2.8" stroke-linecap="round"/><line x1="796.6" y1="1003.5" x2="811.6" y2="1005.5" stroke="#b8b8b8" stroke-width="1.6"/><polygon points="650.8,959.5 649.8,1004.5 666.8,1007.5" fill="#7a7a7a" stroke="#1c1c1c" stroke-width="1.6" stroke-linejoin="round"/><line x1="650.8" y1="959.5" x2="666.8" y2="1007.5" stroke="#161616" stroke-width="2.8" stroke-linecap="round"/><line x1="650.8" y1="1005.0" x2="665.8" y2="1007.0" stroke="#b8b8b8" stroke-width="1.6"/><polygon points="833.0,966.9 832.0,1011.9 849.0,1014.9" fill="#7a7a7a" stroke="#1c1c1c" stroke-width="1.6" stroke-linejoin="round"/><line x1="833.0" y1="966.9" x2="849.0" y2="1014.9" stroke="#161616" stroke-width="2.8" stroke-linecap="round"/><line x1="833.0" y1="1012.4" x2="848.0" y2="1014.4" stroke="#b8b8b8" stroke-width="1.6"/><polygon points="687.8,968.8 686.8,1013.8 703.8,1016.8" fill="#7a7a7a" stroke="#1c1c1c" stroke-width="1.6" stroke-linejoin="round"/><line x1="687.8" y1="968.8" x2="703.8" y2="1016.8" stroke="#161616" stroke-width="2.8" stroke-linecap="round"/><line x1="687.8" y1="1014.3" x2="702.8" y2="1016.3" stroke="#b8b8b8" stroke-width="1.6"/><polygon points="724.8,978.2 723.8,1023.2 740.8,1026.2" fill="#7a7a7a" stroke="#1c1c1c" stroke-width="1.6" stroke-linejoin="round"/><line x1="724.8" y1="978.2" x2="740.8" y2="1026.2" stroke="#161616" stroke-width="2.8" stroke-linecap="round"/><line x1="724.8" y1="1023.7" x2="739.8" y2="1025.7" stroke="#b8b8b8" stroke-width="1.6"/><polygon points="761.7,987.6 760.7,1032.6 777.7,1035.6" fill="#7a7a7a" stroke="#1c1c1c" stroke-width="1.6" stroke-linejoin="round"/><line x1="761.7" y1="987.6" x2="777.7" y2="1035.6" stroke="#161616" stroke-width="2.8" stroke-linecap="round"/><line x1="761.7" y1="1033.1" x2="776.7" y2="1035.1" stroke="#b8b8b8" stroke-width="1.6"/><polygon points="798.7,996.9 797.7,1041.9 814.7,1044.9" fill="#7a7a7a" stroke="#1c1c1c" stroke-width="1.6" stroke-linejoin="round"/><line x1="798.7" y1="996.9" x2="814.7" y2="1044.9" stroke="#161616" stroke-width="2.8" stroke-linecap="round"/><line x1="798.7" y1="1042.4" x2="813.7" y2="1044.4" stroke="#b8b8b8" stroke-width="1.6"/></svg>
<svg style="left:1030px;top:740px" width="430" height="320" viewBox="1030 740 430 320"><polyline points="1044.6,996.5 1219.5,775.0 1441.7,803.5 1294.8,1043.2" fill="#fff" stroke="#1a1a1a" stroke-width="1.6" stroke-linejoin="round"/><line x1="1044.6" y1="996.5" x2="1064.6" y2="1001.7" stroke="#1a1a1a" stroke-width="3" stroke-linecap="round"/><line x1="1078.5" y1="1003.7" x2="1138.3" y2="1015.6" stroke="#1a1a1a" stroke-width="3" stroke-linecap="round"/><line x1="1152.2" y1="1017.0" x2="1214.0" y2="1026.3" stroke="#1a1a1a" stroke-width="3" stroke-linecap="round"/><line x1="1228.6" y1="1030.9" x2="1294.8" y2="1043.2" stroke="#1a1a1a" stroke-width="3" stroke-linecap="round"/><path d="M1246.6,793.3 Q1238.6,808.3 1230.6,821.3" fill="none" stroke="#777" stroke-width="1"/><path d="M1216.6,798.3 Q1208.6,810.3 1202.6,820.3" fill="none" stroke="#888" stroke-width="0.9"/><line x1="1226.6" y1="790.3" x2="1213.6" y2="807.3" stroke="#181818" stroke-width="2.6"/><polygon points="1202.6,790.3 1204.6,823.3 1221.6,823.3" fill="#6c6c6c" stroke="#181818" stroke-width="1.3" stroke-linejoin="round"/><line x1="1202.6" y1="790.3" x2="1221.6" y2="823.3" stroke="#181818" stroke-width="2.7" stroke-linecap="round"/><polygon points="1220.6,758.3 1226.6,790.3 1235.6,791.3" fill="#6c6c6c" stroke="#181818" stroke-width="1.3" stroke-linejoin="round"/><line x1="1220.6" y1="758.3" x2="1235.6" y2="791.3" stroke="#181818" stroke-width="2.5" stroke-linecap="round"/><polygon points="1235.6,760.3 1236.6,790.3 1246.6,791.3" fill="#6c6c6c" stroke="#181818" stroke-width="1.3" stroke-linejoin="round"/><line x1="1235.6" y1="760.3" x2="1246.6" y2="791.3" stroke="#181818" stroke-width="2.5" stroke-linecap="round"/><line x1="1226.6" y1="790.3" x2="1246.6" y2="791.8" stroke="#181818" stroke-width="2.4"/><path d="M1283.7,793.3 Q1275.7,808.3 1267.7,821.3" fill="none" stroke="#777" stroke-width="1"/><path d="M1253.7,798.3 Q1245.7,810.3 1239.7,820.3" fill="none" stroke="#888" stroke-width="0.9"/><line x1="1263.7" y1="790.3" x2="1250.7" y2="807.3" stroke="#181818" stroke-width="2.6"/><polygon points="1239.7,790.3 1241.7,823.3 1258.7,823.3" fill="#6c6c6c" stroke="#181818" stroke-width="1.3" stroke-linejoin="round"/><line x1="1239.7" y1="790.3" x2="1258.7" y2="823.3" stroke="#181818" stroke-width="2.7" stroke-linecap="round"/><polygon points="1257.7,758.3 1263.7,790.3 1272.7,791.3" fill="#6c6c6c" stroke="#181818" stroke-width="1.3" stroke-linejoin="round"/><line x1="1257.7" y1="758.3" x2="1272.7" y2="791.3" stroke="#181818" stroke-width="2.5" stroke-linecap="round"/><polygon points="1272.7,760.3 1273.7,790.3 1283.7,791.3" fill="#6c6c6c" stroke="#181818" stroke-width="1.3" stroke-linejoin="round"/><line x1="1272.7" y1="760.3" x2="1283.7" y2="791.3" stroke="#181818" stroke-width="2.5" stroke-linecap="round"/><line x1="1263.7" y1="790.3" x2="1283.7" y2="791.8" stroke="#181818" stroke-width="2.4"/><path d="M1351.2,801.2 Q1343.2,816.2 1335.2,829.2" fill="none" stroke="#777" stroke-width="1"/><path d="M1321.2,806.2 Q1313.2,818.2 1307.2,828.2" fill="none" stroke="#888" stroke-width="0.9"/><line x1="1331.2" y1="798.2" x2="1318.2" y2="815.2" stroke="#181818" stroke-width="2.6"/><polygon points="1307.2,798.2 1309.2,831.2 1326.2,831.2" fill="#6c6c6c" stroke="#181818" stroke-width="1.3" stroke-linejoin="round"/><line x1="1307.2" y1="798.2" x2="1326.2" y2="831.2" stroke="#181818" stroke-width="2.7" stroke-linecap="round"/><polygon points="1325.2,766.2 1331.2,798.2 1340.2,799.2" fill="#6c6c6c" stroke="#181818" stroke-width="1.3" stroke-linejoin="round"/><line x1="1325.2" y1="766.2" x2="1340.2" y2="799.2" stroke="#181818" stroke-width="2.5" stroke-linecap="round"/><polygon points="1340.2,768.2 1341.2,798.2 1351.2,799.2" fill="#6c6c6c" stroke="#181818" stroke-width="1.3" stroke-linejoin="round"/><line x1="1340.2" y1="768.2" x2="1351.2" y2="799.2" stroke="#181818" stroke-width="2.5" stroke-linecap="round"/><line x1="1331.2" y1="798.2" x2="1351.2" y2="799.7" stroke="#181818" stroke-width="2.4"/><path d="M1314.1,803.9 Q1306.1,818.9 1298.1,831.9" fill="none" stroke="#777" stroke-width="1"/><path d="M1284.1,808.9 Q1276.1,820.9 1270.1,830.9" fill="none" stroke="#888" stroke-width="0.9"/><line x1="1294.1" y1="800.9" x2="1281.1" y2="817.9" stroke="#181818" stroke-width="2.6"/><polygon points="1270.1,800.9 1272.1,833.9 1289.1,833.9" fill="#6c6c6c" stroke="#181818" stroke-width="1.3" stroke-linejoin="round"/><line x1="1270.1" y1="800.9" x2="1289.1" y2="833.9" stroke="#181818" stroke-width="2.7" stroke-linecap="round"/><polygon points="1288.1,768.9 1294.1,800.9 1303.1,801.9" fill="#6c6c6c" stroke="#181818" stroke-width="1.3" stroke-linejoin="round"/><line x1="1288.1" y1="768.9" x2="1303.1" y2="801.9" stroke="#181818" stroke-width="2.5" stroke-linecap="round"/><polygon points="1303.1,770.9 1304.1,800.9 1314.1,801.9" fill="#6c6c6c" stroke="#181818" stroke-width="1.3" stroke-linejoin="round"/><line x1="1303.1" y1="770.9" x2="1314.1" y2="801.9" stroke="#181818" stroke-width="2.5" stroke-linecap="round"/><line x1="1294.1" y1="800.9" x2="1314.1" y2="802.4" stroke="#181818" stroke-width="2.4"/><path d="M1422.7,809.2 Q1414.7,824.2 1406.7,837.2" fill="none" stroke="#777" stroke-width="1"/><path d="M1392.7,814.2 Q1384.7,826.2 1378.7,836.2" fill="none" stroke="#888" stroke-width="0.9"/><line x1="1402.7" y1="806.2" x2="1389.7" y2="823.2" stroke="#181818" stroke-width="2.6"/><polygon points="1378.7,806.2 1380.7,839.2 1397.7,839.2" fill="#6c6c6c" stroke="#181818" stroke-width="1.3" stroke-linejoin="round"/><line x1="1378.7" y1="806.2" x2="1397.7" y2="839.2" stroke="#181818" stroke-width="2.7" stroke-linecap="round"/><polygon points="1396.7,774.2 1402.7,806.2 1411.7,807.2" fill="#6c6c6c" stroke="#181818" stroke-width="1.3" stroke-linejoin="round"/><line x1="1396.7" y1="774.2" x2="1411.7" y2="807.2" stroke="#181818" stroke-width="2.5" stroke-linecap="round"/><polygon points="1411.7,776.2 1412.7,806.2 1422.7,807.2" fill="#6c6c6c" stroke="#181818" stroke-width="1.3" stroke-linejoin="round"/><line x1="1411.7" y1="776.2" x2="1422.7" y2="807.2" stroke="#181818" stroke-width="2.5" stroke-linecap="round"/><line x1="1402.7" y1="806.2" x2="1422.7" y2="807.7" stroke="#181818" stroke-width="2.4"/><path d="M1383.0,811.8 Q1375.0,826.8 1367.0,839.8" fill="none" stroke="#777" stroke-width="1"/><path d="M1353.0,816.8 Q1345.0,828.8 1339.0,838.8" fill="none" stroke="#888" stroke-width="0.9"/><line x1="1363.0" y1="808.8" x2="1350.0" y2="825.8" stroke="#181818" stroke-width="2.6"/><polygon points="1339.0,808.8 1341.0,841.8 1358.0,841.8" fill="#6c6c6c" stroke="#181818" stroke-width="1.3" stroke-linejoin="round"/><line x1="1339.0" y1="808.8" x2="1358.0" y2="841.8" stroke="#181818" stroke-width="2.7" stroke-linecap="round"/><polygon points="1357.0,776.8 1363.0,808.8 1372.0,809.8" fill="#6c6c6c" stroke="#181818" stroke-width="1.3" stroke-linejoin="round"/><line x1="1357.0" y1="776.8" x2="1372.0" y2="809.8" stroke="#181818" stroke-width="2.5" stroke-linecap="round"/><polygon points="1372.0,778.8 1373.0,808.8 1383.0,809.8" fill="#6c6c6c" stroke="#181818" stroke-width="1.3" stroke-linejoin="round"/><line x1="1372.0" y1="778.8" x2="1383.0" y2="809.8" stroke="#181818" stroke-width="2.5" stroke-linecap="round"/><line x1="1363.0" y1="808.8" x2="1383.0" y2="810.3" stroke="#181818" stroke-width="2.4"/><path d="M1203.0,848.9 Q1195.0,863.9 1187.0,876.9" fill="none" stroke="#777" stroke-width="1"/><path d="M1173.0,853.9 Q1165.0,865.9 1159.0,875.9" fill="none" stroke="#888" stroke-width="0.9"/><line x1="1183.0" y1="845.9" x2="1170.0" y2="862.9" stroke="#181818" stroke-width="2.6"/><polygon points="1159.0,845.9 1161.0,878.9 1178.0,878.9" fill="#6c6c6c" stroke="#181818" stroke-width="1.3" stroke-linejoin="round"/><line x1="1159.0" y1="845.9" x2="1178.0" y2="878.9" stroke="#181818" stroke-width="2.7" stroke-linecap="round"/><polygon points="1177.0,813.9 1183.0,845.9 1192.0,846.9" fill="#6c6c6c" stroke="#181818" stroke-width="1.3" stroke-linejoin="round"/><line x1="1177.0" y1="813.9" x2="1192.0" y2="846.9" stroke="#181818" stroke-width="2.5" stroke-linecap="round"/><polygon points="1192.0,815.9 1193.0,845.9 1203.0,846.9" fill="#6c6c6c" stroke="#181818" stroke-width="1.3" stroke-linejoin="round"/><line x1="1192.0" y1="815.9" x2="1203.0" y2="846.9" stroke="#181818" stroke-width="2.5" stroke-linecap="round"/><line x1="1183.0" y1="845.9" x2="1203.0" y2="847.4" stroke="#181818" stroke-width="2.4"/><path d="M1241.3,848.9 Q1233.3,863.9 1225.3,876.9" fill="none" stroke="#777" stroke-width="1"/><path d="M1211.3,853.9 Q1203.3,865.9 1197.3,875.9" fill="none" stroke="#888" stroke-width="0.9"/><line x1="1221.3" y1="845.9" x2="1208.3" y2="862.9" stroke="#181818" stroke-width="2.6"/><polygon points="1197.3,845.9 1199.3,878.9 1216.3,878.9" fill="#6c6c6c" stroke="#181818" stroke-width="1.3" stroke-linejoin="round"/><line x1="1197.3" y1="845.9" x2="1216.3" y2="878.9" stroke="#181818" stroke-width="2.7" stroke-linecap="round"/><polygon points="1215.3,813.9 1221.3,845.9 1230.3,846.9" fill="#6c6c6c" stroke="#181818" stroke-width="1.3" stroke-linejoin="round"/><line x1="1215.3" y1="813.9" x2="1230.3" y2="846.9" stroke="#181818" stroke-width="2.5" stroke-linecap="round"/><polygon points="1230.3,815.9 1231.3,845.9 1241.3,846.9" fill="#6c6c6c" stroke="#181818" stroke-width="1.3" stroke-linejoin="round"/><line x1="1230.3" y1="815.9" x2="1241.3" y2="846.9" stroke="#181818" stroke-width="2.5" stroke-linecap="round"/><line x1="1221.3" y1="845.9" x2="1241.3" y2="847.4" stroke="#181818" stroke-width="2.4"/><path d="M1271.8,859.5 Q1263.8,874.5 1255.8,887.5" fill="none" stroke="#777" stroke-width="1"/><path d="M1241.8,864.5 Q1233.8,876.5 1227.8,886.5" fill="none" stroke="#888" stroke-width="0.9"/><line x1="1251.8" y1="856.5" x2="1238.8" y2="873.5" stroke="#181818" stroke-width="2.6"/><polygon points="1227.8,856.5 1229.8,889.5 1246.8,889.5" fill="#6c6c6c" stroke="#181818" stroke-width="1.3" stroke-linejoin="round"/><line x1="1227.8" y1="856.5" x2="1246.8" y2="889.5" stroke="#181818" stroke-width="2.7" stroke-linecap="round"/><polygon points="1245.8,824.5 1251.8,856.5 1260.8,857.5" fill="#6c6c6c" stroke="#181818" stroke-width="1.3" stroke-linejoin="round"/><line x1="1245.8" y1="824.5" x2="1260.8" y2="857.5" stroke="#181818" stroke-width="2.5" stroke-linecap="round"/><polygon points="1260.8,826.5 1261.8,856.5 1271.8,857.5" fill="#6c6c6c" stroke="#181818" stroke-width="1.3" stroke-linejoin="round"/><line x1="1260.8" y1="826.5" x2="1271.8" y2="857.5" stroke="#181818" stroke-width="2.5" stroke-linecap="round"/><line x1="1251.8" y1="856.5" x2="1271.8" y2="858.0" stroke="#181818" stroke-width="2.4"/><path d="M1310.2,859.5 Q1302.2,874.5 1294.2,887.5" fill="none" stroke="#777" stroke-width="1"/><path d="M1280.2,864.5 Q1272.2,876.5 1266.2,886.5" fill="none" stroke="#888" stroke-width="0.9"/><line x1="1290.2" y1="856.5" x2="1277.2" y2="873.5" stroke="#181818" stroke-width="2.6"/><polygon points="1266.2,856.5 1268.2,889.5 1285.2,889.5" fill="#6c6c6c" stroke="#181818" stroke-width="1.3" stroke-linejoin="round"/><line x1="1266.2" y1="856.5" x2="1285.2" y2="889.5" stroke="#181818" stroke-width="2.7" stroke-linecap="round"/><polygon points="1284.2,824.5 1290.2,856.5 1299.2,857.5" fill="#6c6c6c" stroke="#181818" stroke-width="1.3" stroke-linejoin="round"/><line x1="1284.2" y1="824.5" x2="1299.2" y2="857.5" stroke="#181818" stroke-width="2.5" stroke-linecap="round"/><polygon points="1299.2,826.5 1300.2,856.5 1310.2,857.5" fill="#6c6c6c" stroke="#181818" stroke-width="1.3" stroke-linejoin="round"/><line x1="1299.2" y1="826.5" x2="1310.2" y2="857.5" stroke="#181818" stroke-width="2.5" stroke-linecap="round"/><line x1="1290.2" y1="856.5" x2="1310.2" y2="858.0" stroke="#181818" stroke-width="2.4"/><path d="M1343.3,867.4 Q1335.3,882.4 1327.3,895.4" fill="none" stroke="#777" stroke-width="1"/><path d="M1313.3,872.4 Q1305.3,884.4 1299.3,894.4" fill="none" stroke="#888" stroke-width="0.9"/><line x1="1323.3" y1="864.4" x2="1310.3" y2="881.4" stroke="#181818" stroke-width="2.6"/><polygon points="1299.3,864.4 1301.3,897.4 1318.3,897.4" fill="#6c6c6c" stroke="#181818" stroke-width="1.3" stroke-linejoin="round"/><line x1="1299.3" y1="864.4" x2="1318.3" y2="897.4" stroke="#181818" stroke-width="2.7" stroke-linecap="round"/><polygon points="1317.3,832.4 1323.3,864.4 1332.3,865.4" fill="#6c6c6c" stroke="#181818" stroke-width="1.3" stroke-linejoin="round"/><line x1="1317.3" y1="832.4" x2="1332.3" y2="865.4" stroke="#181818" stroke-width="2.5" stroke-linecap="round"/><polygon points="1332.3,834.4 1333.3,864.4 1343.3,865.4" fill="#6c6c6c" stroke="#181818" stroke-width="1.3" stroke-linejoin="round"/><line x1="1332.3" y1="834.4" x2="1343.3" y2="865.4" stroke="#181818" stroke-width="2.5" stroke-linecap="round"/><line x1="1323.3" y1="864.4" x2="1343.3" y2="865.9" stroke="#181818" stroke-width="2.4"/><path d="M1384.3,867.4 Q1376.3,882.4 1368.3,895.4" fill="none" stroke="#777" stroke-width="1"/><path d="M1354.3,872.4 Q1346.3,884.4 1340.3,894.4" fill="none" stroke="#888" stroke-width="0.9"/><line x1="1364.3" y1="864.4" x2="1351.3" y2="881.4" stroke="#181818" stroke-width="2.6"/><polygon points="1340.3,864.4 1342.3,897.4 1359.3,897.4" fill="#6c6c6c" stroke="#181818" stroke-width="1.3" stroke-linejoin="round"/><line x1="1340.3" y1="864.4" x2="1359.3" y2="897.4" stroke="#181818" stroke-width="2.7" stroke-linecap="round"/><polygon points="1358.3,832.4 1364.3,864.4 1373.3,865.4" fill="#6c6c6c" stroke="#181818" stroke-width="1.3" stroke-linejoin="round"/><line x1="1358.3" y1="832.4" x2="1373.3" y2="865.4" stroke="#181818" stroke-width="2.5" stroke-linecap="round"/><polygon points="1373.3,834.4 1374.3,864.4 1384.3,865.4" fill="#6c6c6c" stroke="#181818" stroke-width="1.3" stroke-linejoin="round"/><line x1="1373.3" y1="834.4" x2="1384.3" y2="865.4" stroke="#181818" stroke-width="2.5" stroke-linecap="round"/><line x1="1364.3" y1="864.4" x2="1384.3" y2="865.9" stroke="#181818" stroke-width="2.4"/><path d="M1156.6,907.2 Q1148.6,922.2 1140.6,935.2" fill="none" stroke="#777" stroke-width="1"/><path d="M1126.6,912.2 Q1118.6,924.2 1112.6,934.2" fill="none" stroke="#888" stroke-width="0.9"/><line x1="1136.6" y1="904.2" x2="1123.6" y2="921.2" stroke="#181818" stroke-width="2.6"/><polygon points="1112.6,904.2 1114.6,937.2 1131.6,937.2" fill="#6c6c6c" stroke="#181818" stroke-width="1.3" stroke-linejoin="round"/><line x1="1112.6" y1="904.2" x2="1131.6" y2="937.2" stroke="#181818" stroke-width="2.7" stroke-linecap="round"/><polygon points="1130.6,872.2 1136.6,904.2 1145.6,905.2" fill="#6c6c6c" stroke="#181818" stroke-width="1.3" stroke-linejoin="round"/><line x1="1130.6" y1="872.2" x2="1145.6" y2="905.2" stroke="#181818" stroke-width="2.5" stroke-linecap="round"/><polygon points="1145.6,874.2 1146.6,904.2 1156.6,905.2" fill="#6c6c6c" stroke="#181818" stroke-width="1.3" stroke-linejoin="round"/><line x1="1145.6" y1="874.2" x2="1156.6" y2="905.2" stroke="#181818" stroke-width="2.5" stroke-linecap="round"/><line x1="1136.6" y1="904.2" x2="1156.6" y2="905.7" stroke="#181818" stroke-width="2.4"/><path d="M1193.7,909.8 Q1185.7,924.8 1177.7,937.8" fill="none" stroke="#777" stroke-width="1"/><path d="M1163.7,914.8 Q1155.7,926.8 1149.7,936.8" fill="none" stroke="#888" stroke-width="0.9"/><line x1="1173.7" y1="906.8" x2="1160.7" y2="923.8" stroke="#181818" stroke-width="2.6"/><polygon points="1149.7,906.8 1151.7,939.8 1168.7,939.8" fill="#6c6c6c" stroke="#181818" stroke-width="1.3" stroke-linejoin="round"/><line x1="1149.7" y1="906.8" x2="1168.7" y2="939.8" stroke="#181818" stroke-width="2.7" stroke-linecap="round"/><polygon points="1167.7,874.8 1173.7,906.8 1182.7,907.8" fill="#6c6c6c" stroke="#181818" stroke-width="1.3" stroke-linejoin="round"/><line x1="1167.7" y1="874.8" x2="1182.7" y2="907.8" stroke="#181818" stroke-width="2.5" stroke-linecap="round"/><polygon points="1182.7,876.8 1183.7,906.8 1193.7,907.8" fill="#6c6c6c" stroke="#181818" stroke-width="1.3" stroke-linejoin="round"/><line x1="1182.7" y1="876.8" x2="1193.7" y2="907.8" stroke="#181818" stroke-width="2.5" stroke-linecap="round"/><line x1="1173.7" y1="906.8" x2="1193.7" y2="908.3" stroke="#181818" stroke-width="2.4"/><path d="M1225.4,919.1 Q1217.4,934.1 1209.4,947.1" fill="none" stroke="#777" stroke-width="1"/><path d="M1195.4,924.1 Q1187.4,936.1 1181.4,946.1" fill="none" stroke="#888" stroke-width="0.9"/><line x1="1205.4" y1="916.1" x2="1192.4" y2="933.1" stroke="#181818" stroke-width="2.6"/><polygon points="1181.4,916.1 1183.4,949.1 1200.4,949.1" fill="#6c6c6c" stroke="#181818" stroke-width="1.3" stroke-linejoin="round"/><line x1="1181.4" y1="916.1" x2="1200.4" y2="949.1" stroke="#181818" stroke-width="2.7" stroke-linecap="round"/><polygon points="1199.4,884.1 1205.4,916.1 1214.4,917.1" fill="#6c6c6c" stroke="#181818" stroke-width="1.3" stroke-linejoin="round"/><line x1="1199.4" y1="884.1" x2="1214.4" y2="917.1" stroke="#181818" stroke-width="2.5" stroke-linecap="round"/><polygon points="1214.4,886.1 1215.4,916.1 1225.4,917.1" fill="#6c6c6c" stroke="#181818" stroke-width="1.3" stroke-linejoin="round"/><line x1="1214.4" y1="886.1" x2="1225.4" y2="917.1" stroke="#181818" stroke-width="2.5" stroke-linecap="round"/><line x1="1205.4" y1="916.1" x2="1225.4" y2="917.6" stroke="#181818" stroke-width="2.4"/><path d="M1266.5,919.1 Q1258.5,934.1 1250.5,947.1" fill="none" stroke="#777" stroke-width="1"/><path d="M1236.5,924.1 Q1228.5,936.1 1222.5,946.1" fill="none" stroke="#888" stroke-width="0.9"/><line x1="1246.5" y1="916.1" x2="1233.5" y2="933.1" stroke="#181818" stroke-width="2.6"/><polygon points="1222.5,916.1 1224.5,949.1 1241.5,949.1" fill="#6c6c6c" stroke="#181818" stroke-width="1.3" stroke-linejoin="round"/><line x1="1222.5" y1="916.1" x2="1241.5" y2="949.1" stroke="#181818" stroke-width="2.7" stroke-linecap="round"/><polygon points="1240.5,884.1 1246.5,916.1 1255.5,917.1" fill="#6c6c6c" stroke="#181818" stroke-width="1.3" stroke-linejoin="round"/><line x1="1240.5" y1="884.1" x2="1255.5" y2="917.1" stroke="#181818" stroke-width="2.5" stroke-linecap="round"/><polygon points="1255.5,886.1 1256.5,916.1 1266.5,917.1" fill="#6c6c6c" stroke="#181818" stroke-width="1.3" stroke-linejoin="round"/><line x1="1255.5" y1="886.1" x2="1266.5" y2="917.1" stroke="#181818" stroke-width="2.5" stroke-linecap="round"/><line x1="1246.5" y1="916.1" x2="1266.5" y2="917.6" stroke="#181818" stroke-width="2.4"/><path d="M1299.6,928.3 Q1291.6,943.3 1283.6,956.3" fill="none" stroke="#777" stroke-width="1"/><path d="M1269.6,933.3 Q1261.6,945.3 1255.6,955.3" fill="none" stroke="#888" stroke-width="0.9"/><line x1="1279.6" y1="925.3" x2="1266.6" y2="942.3" stroke="#181818" stroke-width="2.6"/><polygon points="1255.6,925.3 1257.6,958.3 1274.6,958.3" fill="#6c6c6c" stroke="#181818" stroke-width="1.3" stroke-linejoin="round"/><line x1="1255.6" y1="925.3" x2="1274.6" y2="958.3" stroke="#181818" stroke-width="2.7" stroke-linecap="round"/><polygon points="1273.6,893.3 1279.6,925.3 1288.6,926.3" fill="#6c6c6c" stroke="#181818" stroke-width="1.3" stroke-linejoin="round"/><line x1="1273.6" y1="893.3" x2="1288.6" y2="926.3" stroke="#181818" stroke-width="2.5" stroke-linecap="round"/><polygon points="1288.6,895.3 1289.6,925.3 1299.6,926.3" fill="#6c6c6c" stroke="#181818" stroke-width="1.3" stroke-linejoin="round"/><line x1="1288.6" y1="895.3" x2="1299.6" y2="926.3" stroke="#181818" stroke-width="2.5" stroke-linecap="round"/><line x1="1279.6" y1="925.3" x2="1299.6" y2="926.8" stroke="#181818" stroke-width="2.4"/><path d="M1342.0,928.3 Q1334.0,943.3 1326.0,956.3" fill="none" stroke="#777" stroke-width="1"/><path d="M1312.0,933.3 Q1304.0,945.3 1298.0,955.3" fill="none" stroke="#888" stroke-width="0.9"/><line x1="1322.0" y1="925.3" x2="1309.0" y2="942.3" stroke="#181818" stroke-width="2.6"/><polygon points="1298.0,925.3 1300.0,958.3 1317.0,958.3" fill="#6c6c6c" stroke="#181818" stroke-width="1.3" stroke-linejoin="round"/><line x1="1298.0" y1="925.3" x2="1317.0" y2="958.3" stroke="#181818" stroke-width="2.7" stroke-linecap="round"/><polygon points="1316.0,893.3 1322.0,925.3 1331.0,926.3" fill="#6c6c6c" stroke="#181818" stroke-width="1.3" stroke-linejoin="round"/><line x1="1316.0" y1="893.3" x2="1331.0" y2="926.3" stroke="#181818" stroke-width="2.5" stroke-linecap="round"/><polygon points="1331.0,895.3 1332.0,925.3 1342.0,926.3" fill="#6c6c6c" stroke="#181818" stroke-width="1.3" stroke-linejoin="round"/><line x1="1331.0" y1="895.3" x2="1342.0" y2="926.3" stroke="#181818" stroke-width="2.5" stroke-linecap="round"/><line x1="1322.0" y1="925.3" x2="1342.0" y2="926.8" stroke="#181818" stroke-width="2.4"/><path d="M1103.7,970.7 Q1095.7,985.7 1087.7,998.7" fill="none" stroke="#777" stroke-width="1"/><path d="M1073.7,975.7 Q1065.7,987.7 1059.7,997.7" fill="none" stroke="#888" stroke-width="0.9"/><line x1="1083.7" y1="967.7" x2="1064.6" y2="1001.7" stroke="#181818" stroke-width="2.6"/><polygon points="1077.7,935.7 1083.7,967.7 1092.7,968.7" fill="#6c6c6c" stroke="#181818" stroke-width="1.3" stroke-linejoin="round"/><line x1="1077.7" y1="935.7" x2="1092.7" y2="968.7" stroke="#181818" stroke-width="2.5" stroke-linecap="round"/><polygon points="1092.7,937.7 1093.7,967.7 1103.7,968.7" fill="#6c6c6c" stroke="#181818" stroke-width="1.3" stroke-linejoin="round"/><line x1="1092.7" y1="937.7" x2="1103.7" y2="968.7" stroke="#181818" stroke-width="2.5" stroke-linecap="round"/><line x1="1083.7" y1="967.7" x2="1103.7" y2="969.2" stroke="#181818" stroke-width="2.4"/><path d="M1143.4,972.0 Q1135.4,987.0 1127.4,1000.0" fill="none" stroke="#777" stroke-width="1"/><path d="M1113.4,977.0 Q1105.4,989.0 1099.4,999.0" fill="none" stroke="#888" stroke-width="0.9"/><line x1="1123.4" y1="969.0" x2="1110.4" y2="986.0" stroke="#181818" stroke-width="2.6"/><polygon points="1099.4,969.0 1101.4,1002.0 1118.4,1002.0" fill="#6c6c6c" stroke="#181818" stroke-width="1.3" stroke-linejoin="round"/><line x1="1099.4" y1="969.0" x2="1118.4" y2="1002.0" stroke="#181818" stroke-width="2.7" stroke-linecap="round"/><polygon points="1117.4,937.0 1123.4,969.0 1132.4,970.0" fill="#6c6c6c" stroke="#181818" stroke-width="1.3" stroke-linejoin="round"/><line x1="1117.4" y1="937.0" x2="1132.4" y2="970.0" stroke="#181818" stroke-width="2.5" stroke-linecap="round"/><polygon points="1132.4,939.0 1133.4,969.0 1143.4,970.0" fill="#6c6c6c" stroke="#181818" stroke-width="1.3" stroke-linejoin="round"/><line x1="1132.4" y1="939.0" x2="1143.4" y2="970.0" stroke="#181818" stroke-width="2.5" stroke-linecap="round"/><line x1="1123.4" y1="969.0" x2="1143.4" y2="970.5" stroke="#181818" stroke-width="2.4"/><path d="M1176.5,982.6 Q1168.5,997.6 1160.5,1010.6" fill="none" stroke="#777" stroke-width="1"/><path d="M1146.5,987.6 Q1138.5,999.6 1132.5,1009.6" fill="none" stroke="#888" stroke-width="0.9"/><line x1="1156.5" y1="979.6" x2="1138.3" y2="1015.6" stroke="#181818" stroke-width="2.6"/><polygon points="1150.5,947.6 1156.5,979.6 1165.5,980.6" fill="#6c6c6c" stroke="#181818" stroke-width="1.3" stroke-linejoin="round"/><line x1="1150.5" y1="947.6" x2="1165.5" y2="980.6" stroke="#181818" stroke-width="2.5" stroke-linecap="round"/><polygon points="1165.5,949.6 1166.5,979.6 1176.5,980.6" fill="#6c6c6c" stroke="#181818" stroke-width="1.3" stroke-linejoin="round"/><line x1="1165.5" y1="949.6" x2="1176.5" y2="980.6" stroke="#181818" stroke-width="2.5" stroke-linecap="round"/><line x1="1156.5" y1="979.6" x2="1176.5" y2="981.1" stroke="#181818" stroke-width="2.4"/><path d="M1218.8,985.3 Q1210.8,1000.3 1202.8,1013.3" fill="none" stroke="#777" stroke-width="1"/><path d="M1188.8,990.3 Q1180.8,1002.3 1174.8,1012.3" fill="none" stroke="#888" stroke-width="0.9"/><line x1="1198.8" y1="982.3" x2="1185.8" y2="999.3" stroke="#181818" stroke-width="2.6"/><polygon points="1174.8,982.3 1176.8,1015.3 1193.8,1015.3" fill="#6c6c6c" stroke="#181818" stroke-width="1.3" stroke-linejoin="round"/><line x1="1174.8" y1="982.3" x2="1193.8" y2="1015.3" stroke="#181818" stroke-width="2.7" stroke-linecap="round"/><polygon points="1192.8,950.3 1198.8,982.3 1207.8,983.3" fill="#6c6c6c" stroke="#181818" stroke-width="1.3" stroke-linejoin="round"/><line x1="1192.8" y1="950.3" x2="1207.8" y2="983.3" stroke="#181818" stroke-width="2.5" stroke-linecap="round"/><polygon points="1207.8,952.3 1208.8,982.3 1218.8,983.3" fill="#6c6c6c" stroke="#181818" stroke-width="1.3" stroke-linejoin="round"/><line x1="1207.8" y1="952.3" x2="1218.8" y2="983.3" stroke="#181818" stroke-width="2.5" stroke-linecap="round"/><line x1="1198.8" y1="982.3" x2="1218.8" y2="983.8" stroke="#181818" stroke-width="2.4"/><path d="M1253.2,994.5 Q1245.2,1009.5 1237.2,1022.5" fill="none" stroke="#777" stroke-width="1"/><path d="M1223.2,999.5 Q1215.2,1011.5 1209.2,1021.5" fill="none" stroke="#888" stroke-width="0.9"/><line x1="1233.2" y1="991.5" x2="1214.0" y2="1026.3" stroke="#181818" stroke-width="2.6"/><polygon points="1227.2,959.5 1233.2,991.5 1242.2,992.5" fill="#6c6c6c" stroke="#181818" stroke-width="1.3" stroke-linejoin="round"/><line x1="1227.2" y1="959.5" x2="1242.2" y2="992.5" stroke="#181818" stroke-width="2.5" stroke-linecap="round"/><polygon points="1242.2,961.5 1243.2,991.5 1253.2,992.5" fill="#6c6c6c" stroke="#181818" stroke-width="1.3" stroke-linejoin="round"/><line x1="1242.2" y1="961.5" x2="1253.2" y2="992.5" stroke="#181818" stroke-width="2.5" stroke-linecap="round"/><line x1="1233.2" y1="991.5" x2="1253.2" y2="993.0" stroke="#181818" stroke-width="2.4"/><path d="M1298.3,998.5 Q1290.3,1013.5 1282.3,1026.5" fill="none" stroke="#777" stroke-width="1"/><path d="M1268.3,1003.5 Q1260.3,1015.5 1254.3,1025.5" fill="none" stroke="#888" stroke-width="0.9"/><line x1="1278.3" y1="995.5" x2="1265.3" y2="1012.5" stroke="#181818" stroke-width="2.6"/><polygon points="1254.3,995.5 1256.3,1028.5 1273.3,1028.5" fill="#6c6c6c" stroke="#181818" stroke-width="1.3" stroke-linejoin="round"/><line x1="1254.3" y1="995.5" x2="1273.3" y2="1028.5" stroke="#181818" stroke-width="2.7" stroke-linecap="round"/><polygon points="1272.3,963.5 1278.3,995.5 1287.3,996.5" fill="#6c6c6c" stroke="#181818" stroke-width="1.3" stroke-linejoin="round"/><line x1="1272.3" y1="963.5" x2="1287.3" y2="996.5" stroke="#181818" stroke-width="2.5" stroke-linecap="round"/><polygon points="1287.3,965.5 1288.3,995.5 1298.3,996.5" fill="#6c6c6c" stroke="#181818" stroke-width="1.3" stroke-linejoin="round"/><line x1="1287.3" y1="965.5" x2="1298.3" y2="996.5" stroke="#181818" stroke-width="2.5" stroke-linecap="round"/><line x1="1278.3" y1="995.5" x2="1298.3" y2="997.0" stroke="#181818" stroke-width="2.4"/></svg>


<div class="t" id="l3a" style="left:204.7px;top:1083.8px;">а) Один зуб</div>
<div class="t" id="l3b" style="left:653.6px;top:1083.8px;">б) Два зуба</div>
<div class="t" id="l3c" style="left:1120px;top:1083.8px;">в) Три зуба</div>
<div class="t" id="c3" style="left:457.4px;top:1147px;">Рисунок 3 — Количество зубьев в одном отверстии МЗП</div>

<div class="t b" id="h3" style="left:188.6px;top:1228.3px;">А.3 Типы МЗП по направлению зубьев</div>
<div class="t" id="p4" style="left:188.6px;top:1268.5px;word-spacing:-0.493px;">Допускается штампование зубьев из пластины в одностороннем (рисунок 4 а)) и двустороннем (рисунок 4 б))</div>
<div class="t" id="p5" style="left:118px;top:1301.8px;">направлениях.</div>

<!-- FIG4 -->
<svg style="left:190px;top:1360px" width="580" height="400" viewBox="190 1360 580 400"><defs><pattern id="sp4" width="7" height="7" patternUnits="userSpaceOnUse"><rect width="7" height="7" fill="#a2a2a2"/><rect x="1" y="2" width="1" height="1" fill="#d8d8d8"/><rect x="5" y="5" width="1" height="1" fill="#c8c8c8"/></pattern></defs><polygon points="208.0,1576.0 576.0,1406.0 748.7,1565.0 380.7,1735.0" fill="url(#sp4)"/><polygon points="204.5,1574.8 217.0,1569.0 221.1,1572.8 208.6,1578.6" fill="#fff"/><polygon points="220.2,1589.2 232.7,1583.4 236.8,1587.3 224.3,1593.0" fill="#fff"/><polygon points="235.9,1603.7 248.4,1597.9 252.5,1601.7 240.0,1607.5" fill="#fff"/><polygon points="251.6,1618.1 264.1,1612.4 268.2,1616.2 255.7,1622.0" fill="#fff"/><polygon points="267.3,1632.6 279.8,1626.8 283.9,1630.6 271.4,1636.4" fill="#fff"/><polygon points="283.0,1647.0 295.5,1641.3 299.6,1645.1 287.1,1650.9" fill="#fff"/><polygon points="298.7,1661.5 311.2,1655.7 315.3,1659.5 302.8,1665.3" fill="#fff"/><polygon points="314.4,1676.0 326.9,1670.2 331.0,1674.0 318.5,1679.8" fill="#fff"/><polygon points="330.1,1690.4 342.6,1684.6 346.7,1688.4 334.2,1694.2" fill="#fff"/><polygon points="345.8,1704.9 358.3,1699.1 362.4,1702.9 349.9,1708.7" fill="#fff"/><polygon points="361.5,1719.3 374.0,1713.5 378.1,1717.4 365.6,1723.1" fill="#fff"/><polygon points="377.2,1733.8 389.7,1728.0 393.8,1731.8 381.3,1737.6" fill="#fff"/><polygon points="232.3,1572.9 280.1,1550.8 285.6,1555.9 237.8,1578.0" fill="#fff"/><polygon points="305.9,1538.9 353.7,1516.8 359.2,1521.9 311.4,1544.0" fill="#fff"/><polygon points="379.5,1504.9 427.3,1482.8 432.8,1487.9 385.0,1510.0" fill="#fff"/><polygon points="453.1,1470.9 500.9,1448.8 506.4,1453.9 458.6,1476.0" fill="#fff"/><polygon points="526.7,1436.9 574.5,1414.8 580.0,1419.9 532.2,1442.0" fill="#fff"/><polygon points="284.8,1570.4 332.6,1548.3 338.1,1553.3 290.3,1575.4" fill="#fff"/><polygon points="358.4,1536.4 406.2,1514.3 411.7,1519.3 363.9,1541.4" fill="#fff"/><polygon points="432.0,1502.4 479.8,1480.3 485.3,1485.3 437.5,1507.4" fill="#fff"/><polygon points="505.6,1468.4 553.4,1446.3 558.9,1451.3 511.1,1473.4" fill="#fff"/><polygon points="579.2,1434.4 592.1,1428.4 597.6,1433.5 584.7,1439.4" fill="#fff"/><polygon points="263.7,1601.8 311.5,1579.7 317.0,1584.8 269.2,1606.9" fill="#fff"/><polygon points="337.3,1567.8 385.1,1545.7 390.6,1550.8 342.8,1572.9" fill="#fff"/><polygon points="410.9,1533.8 458.7,1511.7 464.2,1516.8 416.4,1538.9" fill="#fff"/><polygon points="484.5,1499.8 532.3,1477.7 537.8,1482.8 490.0,1504.9" fill="#fff"/><polygon points="558.1,1465.8 605.9,1443.7 611.4,1448.8 563.6,1470.9" fill="#fff"/><polygon points="316.2,1599.3 364.0,1577.2 369.5,1582.3 321.7,1604.4" fill="#fff"/><polygon points="389.8,1565.3 437.6,1543.2 443.1,1548.3 395.3,1570.4" fill="#fff"/><polygon points="463.4,1531.3 511.2,1509.2 516.7,1514.3 468.9,1536.4" fill="#fff"/><polygon points="537.0,1497.3 584.8,1475.2 590.3,1480.3 542.5,1502.4" fill="#fff"/><polygon points="610.6,1463.3 623.5,1457.3 629.0,1462.4 616.1,1468.4" fill="#fff"/><polygon points="295.1,1630.7 342.9,1608.6 348.4,1613.7 300.6,1635.8" fill="#fff"/><polygon points="368.7,1596.7 416.5,1574.6 422.0,1579.7 374.2,1601.8" fill="#fff"/><polygon points="442.3,1562.7 490.1,1540.6 495.6,1545.7 447.8,1567.8" fill="#fff"/><polygon points="515.9,1528.7 563.7,1506.6 569.2,1511.7 521.4,1533.8" fill="#fff"/><polygon points="589.5,1494.7 637.3,1472.6 642.8,1477.7 595.0,1499.8" fill="#fff"/><polygon points="347.6,1628.2 395.4,1606.1 400.9,1611.2 353.1,1633.3" fill="#fff"/><polygon points="421.2,1594.2 469.0,1572.1 474.5,1577.2 426.7,1599.3" fill="#fff"/><polygon points="494.8,1560.2 542.6,1538.1 548.1,1543.2 500.3,1565.3" fill="#fff"/><polygon points="568.4,1526.2 616.2,1504.1 621.7,1509.2 573.9,1531.3" fill="#fff"/><polygon points="642.0,1492.2 654.9,1486.2 660.4,1491.3 647.5,1497.3" fill="#fff"/><polygon points="326.5,1659.6 374.3,1637.5 379.8,1642.6 332.0,1664.7" fill="#fff"/><polygon points="400.1,1625.6 447.9,1603.5 453.4,1608.6 405.6,1630.7" fill="#fff"/><polygon points="473.7,1591.6 521.5,1569.5 527.0,1574.6 479.2,1596.7" fill="#fff"/><polygon points="547.3,1557.6 595.1,1535.5 600.6,1540.6 552.8,1562.7" fill="#fff"/><polygon points="620.9,1523.6 668.7,1501.5 674.2,1506.6 626.4,1528.7" fill="#fff"/><polygon points="379.0,1657.1 426.8,1635.0 432.3,1640.1 384.5,1662.2" fill="#fff"/><polygon points="452.6,1623.1 500.4,1601.0 505.9,1606.1 458.1,1628.2" fill="#fff"/><polygon points="526.2,1589.1 574.0,1567.0 579.5,1572.1 531.7,1594.2" fill="#fff"/><polygon points="599.8,1555.1 647.6,1533.0 653.1,1538.1 605.3,1560.2" fill="#fff"/><polygon points="673.4,1521.1 686.3,1515.1 691.8,1520.2 678.9,1526.2" fill="#fff"/><polygon points="357.9,1688.5 405.7,1666.4 411.2,1671.5 363.4,1693.6" fill="#fff"/><polygon points="431.5,1654.5 479.3,1632.4 484.8,1637.5 437.0,1659.6" fill="#fff"/><polygon points="505.1,1620.5 552.9,1598.4 558.4,1603.5 510.6,1625.6" fill="#fff"/><polygon points="578.7,1586.5 626.5,1564.4 632.0,1569.5 584.2,1591.6" fill="#fff"/><polygon points="652.3,1552.5 700.1,1530.4 705.6,1535.5 657.8,1557.6" fill="#fff"/><polygon points="410.4,1686.0 458.2,1663.9 463.7,1669.0 415.9,1691.1" fill="#fff"/><polygon points="484.0,1652.0 531.8,1629.9 537.3,1635.0 489.5,1657.1" fill="#fff"/><polygon points="557.6,1618.0 605.4,1595.9 610.9,1601.0 563.1,1623.1" fill="#fff"/><polygon points="631.2,1584.0 679.0,1561.9 684.5,1567.0 636.7,1589.1" fill="#fff"/><polygon points="704.8,1550.0 717.7,1544.0 723.2,1549.1 710.3,1555.1" fill="#fff"/><polygon points="389.3,1717.5 437.1,1695.4 442.6,1700.4 394.8,1722.5" fill="#fff"/><polygon points="462.9,1683.5 510.7,1661.4 516.2,1666.4 468.4,1688.5" fill="#fff"/><polygon points="536.5,1649.5 584.3,1627.4 589.8,1632.4 542.0,1654.5" fill="#fff"/><polygon points="610.1,1615.5 657.9,1593.4 663.4,1598.4 615.6,1620.5" fill="#fff"/><polygon points="683.7,1581.5 731.5,1559.4 737.0,1564.4 689.2,1586.5" fill="#fff"/><path d="M554.3,1403.1 L554.3,1379.1 Q554.3,1375.1 557.3,1375.1 L560.8,1376.1 L563.8,1381.1 L563.8,1404.1 Z" fill="#7a7a7a"/><rect x="560.0" y="1380.1" width="3.8" height="23.0" fill="#999999"/><path d="M551.3,1406.1 L555.3,1401.1 L557.3,1402.6 L553.3,1407.6 Z" fill="#fff"/><path d="M588.8,1434.9 L588.8,1412.9 Q588.8,1408.9 591.8,1408.9 L595.3,1409.9 L598.3,1414.9 L598.3,1435.9 Z" fill="#7a7a7a"/><rect x="594.5" y="1413.9" width="3.8" height="21.0" fill="#999999"/><path d="M585.8,1437.9 L589.8,1432.9 L591.8,1434.4 L587.8,1439.4 Z" fill="#fff"/><path d="M480.7,1437.1 L480.7,1413.1 Q480.7,1409.1 483.7,1409.1 L487.2,1410.1 L490.2,1415.1 L490.2,1438.1 Z" fill="#7a7a7a"/><rect x="486.4" y="1414.1" width="3.8" height="23.0" fill="#999999"/><path d="M477.7,1440.1 L481.7,1435.1 L483.7,1436.6 L479.7,1441.6 Z" fill="#fff"/><path d="M549.4,1449.5 L549.4,1409.5 Q549.4,1405.5 552.4,1405.5 L555.9,1406.5 L558.9,1411.5 L558.9,1450.5 Z" fill="#7a7a7a"/><rect x="555.1" y="1410.5" width="3.8" height="39.0" fill="#999999"/><path d="M546.4,1452.5 L550.4,1447.5 L552.4,1449.0 L548.4,1454.0 Z" fill="#fff"/><path d="M623.4,1466.7 L623.4,1444.7 Q623.4,1440.7 626.4,1440.7 L629.9,1441.7 L632.9,1446.7 L632.9,1467.7 Z" fill="#7a7a7a"/><rect x="629.1" y="1445.7" width="3.8" height="21.0" fill="#999999"/><path d="M620.4,1469.7 L624.4,1464.7 L626.4,1466.2 L622.4,1471.2 Z" fill="#fff"/><path d="M515.2,1468.9 L515.2,1446.9 Q515.2,1442.9 518.2,1442.9 L521.7,1443.9 L524.7,1448.9 L524.7,1469.9 Z" fill="#7a7a7a"/><rect x="520.9" y="1447.9" width="3.8" height="21.0" fill="#999999"/><path d="M512.2,1471.9 L516.2,1466.9 L518.2,1468.4 L514.2,1473.4 Z" fill="#fff"/><path d="M407.1,1471.1 L407.1,1447.1 Q407.1,1443.1 410.1,1443.1 L413.6,1444.1 L416.6,1449.1 L416.6,1472.1 Z" fill="#7a7a7a"/><rect x="412.8" y="1448.1" width="3.8" height="23.0" fill="#999999"/><path d="M404.1,1474.1 L408.1,1469.1 L410.1,1470.6 L406.1,1475.6 Z" fill="#fff"/><path d="M584.0,1481.3 L584.0,1441.3 Q584.0,1437.3 587.0,1437.3 L590.5,1438.3 L593.5,1443.3 L593.5,1482.3 Z" fill="#7a7a7a"/><rect x="589.7" y="1442.3" width="3.8" height="39.0" fill="#999999"/><path d="M581.0,1484.3 L585.0,1479.3 L587.0,1480.8 L583.0,1485.8 Z" fill="#fff"/><path d="M475.8,1483.5 L475.8,1443.5 Q475.8,1439.5 478.8,1439.5 L482.3,1440.5 L485.3,1445.5 L485.3,1484.5 Z" fill="#7a7a7a"/><rect x="481.5" y="1444.5" width="3.8" height="39.0" fill="#999999"/><path d="M472.8,1486.5 L476.8,1481.5 L478.8,1483.0 L474.8,1488.0 Z" fill="#fff"/><path d="M657.9,1498.5 L657.9,1476.5 Q657.9,1472.5 660.9,1472.5 L664.4,1473.5 L667.4,1478.5 L667.4,1499.5 Z" fill="#7a7a7a"/><rect x="663.6" y="1477.5" width="3.8" height="21.0" fill="#999999"/><path d="M654.9,1501.5 L658.9,1496.5 L660.9,1498.0 L656.9,1503.0 Z" fill="#fff"/><path d="M549.8,1500.7 L549.8,1478.7 Q549.8,1474.7 552.8,1474.7 L556.3,1475.7 L559.3,1480.7 L559.3,1501.7 Z" fill="#7a7a7a"/><rect x="555.5" y="1479.7" width="3.8" height="21.0" fill="#999999"/><path d="M546.8,1503.7 L550.8,1498.7 L552.8,1500.2 L548.8,1505.2 Z" fill="#fff"/><path d="M441.6,1502.9 L441.6,1480.9 Q441.6,1476.9 444.6,1476.9 L448.1,1477.9 L451.1,1482.9 L451.1,1503.9 Z" fill="#7a7a7a"/><rect x="447.3" y="1481.9" width="3.8" height="21.0" fill="#999999"/><path d="M438.6,1505.9 L442.6,1500.9 L444.6,1502.4 L440.6,1507.4 Z" fill="#fff"/><path d="M333.5,1505.1 L333.5,1481.1 Q333.5,1477.1 336.5,1477.1 L340.0,1478.1 L343.0,1483.1 L343.0,1506.1 Z" fill="#7a7a7a"/><rect x="339.2" y="1482.1" width="3.8" height="23.0" fill="#999999"/><path d="M330.5,1508.1 L334.5,1503.1 L336.5,1504.6 L332.5,1509.6 Z" fill="#fff"/><path d="M618.5,1513.1 L618.5,1473.1 Q618.5,1469.1 621.5,1469.1 L625.0,1470.1 L628.0,1475.1 L628.0,1514.1 Z" fill="#7a7a7a"/><rect x="624.2" y="1474.1" width="3.8" height="39.0" fill="#999999"/><path d="M615.5,1516.1 L619.5,1511.1 L621.5,1512.6 L617.5,1517.6 Z" fill="#fff"/><path d="M510.4,1515.3 L510.4,1475.3 Q510.4,1471.3 513.4,1471.3 L516.9,1472.3 L519.9,1477.3 L519.9,1516.3 Z" fill="#7a7a7a"/><rect x="516.1" y="1476.3" width="3.8" height="39.0" fill="#999999"/><path d="M507.4,1518.3 L511.4,1513.3 L513.4,1514.8 L509.4,1519.8 Z" fill="#fff"/><path d="M402.2,1517.5 L402.2,1477.5 Q402.2,1473.5 405.2,1473.5 L408.7,1474.5 L411.7,1479.5 L411.7,1518.5 Z" fill="#7a7a7a"/><rect x="407.9" y="1478.5" width="3.8" height="39.0" fill="#999999"/><path d="M399.2,1520.5 L403.2,1515.5 L405.2,1517.0 L401.2,1522.0 Z" fill="#fff"/><path d="M692.4,1530.3 L692.4,1508.3 Q692.4,1504.3 695.4,1504.3 L698.9,1505.3 L701.9,1510.3 L701.9,1531.3 Z" fill="#7a7a7a"/><rect x="698.1" y="1509.3" width="3.8" height="21.0" fill="#999999"/><path d="M689.4,1533.3 L693.4,1528.3 L695.4,1529.8 L691.4,1534.8 Z" fill="#fff"/><path d="M584.3,1532.5 L584.3,1510.5 Q584.3,1506.5 587.3,1506.5 L590.8,1507.5 L593.8,1512.5 L593.8,1533.5 Z" fill="#7a7a7a"/><rect x="590.0" y="1511.5" width="3.8" height="21.0" fill="#999999"/><path d="M581.3,1535.5 L585.3,1530.5 L587.3,1532.0 L583.3,1537.0 Z" fill="#fff"/><path d="M476.2,1534.7 L476.2,1512.7 Q476.2,1508.7 479.2,1508.7 L482.7,1509.7 L485.7,1514.7 L485.7,1535.7 Z" fill="#7a7a7a"/><rect x="481.9" y="1513.7" width="3.8" height="21.0" fill="#999999"/><path d="M473.2,1537.7 L477.2,1532.7 L479.2,1534.2 L475.2,1539.2 Z" fill="#fff"/><path d="M368.0,1536.9 L368.0,1514.9 Q368.0,1510.9 371.0,1510.9 L374.5,1511.9 L377.5,1516.9 L377.5,1537.9 Z" fill="#7a7a7a"/><rect x="373.7" y="1515.9" width="3.8" height="21.0" fill="#999999"/><path d="M365.0,1539.9 L369.0,1534.9 L371.0,1536.4 L367.0,1541.4 Z" fill="#fff"/><path d="M259.9,1539.1 L259.9,1515.1 Q259.9,1511.1 262.9,1511.1 L266.4,1512.1 L269.4,1517.1 L269.4,1540.1 Z" fill="#7a7a7a"/><rect x="265.6" y="1516.1" width="3.8" height="23.0" fill="#999999"/><path d="M256.9,1542.1 L260.9,1537.1 L262.9,1538.6 L258.9,1543.6 Z" fill="#fff"/><path d="M653.0,1544.9 L653.0,1504.9 Q653.0,1500.9 656.0,1500.9 L659.5,1501.9 L662.5,1506.9 L662.5,1545.9 Z" fill="#7a7a7a"/><rect x="658.7" y="1505.9" width="3.8" height="39.0" fill="#999999"/><path d="M650.0,1547.9 L654.0,1542.9 L656.0,1544.4 L652.0,1549.4 Z" fill="#fff"/><path d="M544.9,1547.1 L544.9,1507.1 Q544.9,1503.1 547.9,1503.1 L551.4,1504.1 L554.4,1509.1 L554.4,1548.1 Z" fill="#7a7a7a"/><rect x="550.6" y="1508.1" width="3.8" height="39.0" fill="#999999"/><path d="M541.9,1550.1 L545.9,1545.1 L547.9,1546.6 L543.9,1551.6 Z" fill="#fff"/><path d="M436.8,1549.3 L436.8,1509.3 Q436.8,1505.3 439.8,1505.3 L443.3,1506.3 L446.3,1511.3 L446.3,1550.3 Z" fill="#7a7a7a"/><rect x="442.5" y="1510.3" width="3.8" height="39.0" fill="#999999"/><path d="M433.8,1552.3 L437.8,1547.3 L439.8,1548.8 L435.8,1553.8 Z" fill="#fff"/><path d="M328.6,1551.5 L328.6,1511.5 Q328.6,1507.5 331.6,1507.5 L335.1,1508.5 L338.1,1513.5 L338.1,1552.5 Z" fill="#7a7a7a"/><rect x="334.3" y="1512.5" width="3.8" height="39.0" fill="#999999"/><path d="M325.6,1554.5 L329.6,1549.5 L331.6,1551.0 L327.6,1556.0 Z" fill="#fff"/><path d="M618.8,1564.3 L618.8,1542.3 Q618.8,1538.3 621.8,1538.3 L625.3,1539.3 L628.3,1544.3 L628.3,1565.3 Z" fill="#7a7a7a"/><rect x="624.5" y="1543.3" width="3.8" height="21.0" fill="#999999"/><path d="M615.8,1567.3 L619.8,1562.3 L621.8,1563.8 L617.8,1568.8 Z" fill="#fff"/><path d="M510.7,1566.5 L510.7,1544.5 Q510.7,1540.5 513.7,1540.5 L517.2,1541.5 L520.2,1546.5 L520.2,1567.5 Z" fill="#7a7a7a"/><rect x="516.4" y="1545.5" width="3.8" height="21.0" fill="#999999"/><path d="M507.7,1569.5 L511.7,1564.5 L513.7,1566.0 L509.7,1571.0 Z" fill="#fff"/><path d="M402.6,1568.7 L402.6,1546.7 Q402.6,1542.7 405.6,1542.7 L409.1,1543.7 L412.1,1548.7 L412.1,1569.7 Z" fill="#7a7a7a"/><rect x="408.3" y="1547.7" width="3.8" height="21.0" fill="#999999"/><path d="M399.6,1571.7 L403.6,1566.7 L405.6,1568.2 L401.6,1573.2 Z" fill="#fff"/><path d="M294.4,1570.9 L294.4,1548.9 Q294.4,1544.9 297.4,1544.9 L300.9,1545.9 L303.9,1550.9 L303.9,1571.9 Z" fill="#7a7a7a"/><rect x="300.1" y="1549.9" width="3.8" height="21.0" fill="#999999"/><path d="M291.4,1573.9 L295.4,1568.9 L297.4,1570.4 L293.4,1575.4 Z" fill="#fff"/><path d="M687.6,1576.7 L687.6,1536.7 Q687.6,1532.7 690.6,1532.7 L694.1,1533.7 L697.1,1538.7 L697.1,1577.7 Z" fill="#7a7a7a"/><rect x="693.3" y="1537.7" width="3.8" height="39.0" fill="#999999"/><path d="M684.6,1579.7 L688.6,1574.7 L690.6,1576.2 L686.6,1581.2 Z" fill="#fff"/><path d="M579.4,1578.9 L579.4,1538.9 Q579.4,1534.9 582.4,1534.9 L585.9,1535.9 L588.9,1540.9 L588.9,1579.9 Z" fill="#7a7a7a"/><rect x="585.1" y="1539.9" width="3.8" height="39.0" fill="#999999"/><path d="M576.4,1581.9 L580.4,1576.9 L582.4,1578.4 L578.4,1583.4 Z" fill="#fff"/><path d="M471.3,1581.1 L471.3,1541.1 Q471.3,1537.1 474.3,1537.1 L477.8,1538.1 L480.8,1543.1 L480.8,1582.1 Z" fill="#7a7a7a"/><rect x="477.0" y="1542.1" width="3.8" height="39.0" fill="#999999"/><path d="M468.3,1584.1 L472.3,1579.1 L474.3,1580.6 L470.3,1585.6 Z" fill="#fff"/><path d="M363.2,1583.3 L363.2,1543.3 Q363.2,1539.3 366.2,1539.3 L369.7,1540.3 L372.7,1545.3 L372.7,1584.3 Z" fill="#7a7a7a"/><rect x="368.9" y="1544.3" width="3.8" height="39.0" fill="#999999"/><path d="M360.2,1586.3 L364.2,1581.3 L366.2,1582.8 L362.2,1587.8 Z" fill="#fff"/><path d="M255.0,1585.5 L255.0,1545.5 Q255.0,1541.5 258.0,1541.5 L261.5,1542.5 L264.5,1547.5 L264.5,1586.5 Z" fill="#7a7a7a"/><rect x="260.7" y="1546.5" width="3.8" height="39.0" fill="#999999"/><path d="M252.0,1588.5 L256.0,1583.5 L258.0,1585.0 L254.0,1590.0 Z" fill="#fff"/><path d="M653.4,1596.1 L653.4,1574.1 Q653.4,1570.1 656.4,1570.1 L659.9,1571.1 L662.9,1576.1 L662.9,1597.1 Z" fill="#7a7a7a"/><rect x="659.1" y="1575.1" width="3.8" height="21.0" fill="#999999"/><path d="M650.4,1599.1 L654.4,1594.1 L656.4,1595.6 L652.4,1600.6 Z" fill="#fff"/><path d="M545.2,1598.3 L545.2,1576.3 Q545.2,1572.3 548.2,1572.3 L551.7,1573.3 L554.7,1578.3 L554.7,1599.3 Z" fill="#7a7a7a"/><rect x="550.9" y="1577.3" width="3.8" height="21.0" fill="#999999"/><path d="M542.2,1601.3 L546.2,1596.3 L548.2,1597.8 L544.2,1602.8 Z" fill="#fff"/><path d="M437.1,1600.5 L437.1,1578.5 Q437.1,1574.5 440.1,1574.5 L443.6,1575.5 L446.6,1580.5 L446.6,1601.5 Z" fill="#7a7a7a"/><rect x="442.8" y="1579.5" width="3.8" height="21.0" fill="#999999"/><path d="M434.1,1603.5 L438.1,1598.5 L440.1,1600.0 L436.1,1605.0 Z" fill="#fff"/><path d="M329.0,1602.7 L329.0,1580.7 Q329.0,1576.7 332.0,1576.7 L335.5,1577.7 L338.5,1582.7 L338.5,1603.7 Z" fill="#7a7a7a"/><rect x="334.7" y="1581.7" width="3.8" height="21.0" fill="#999999"/><path d="M326.0,1605.7 L330.0,1600.7 L332.0,1602.2 L328.0,1607.2 Z" fill="#fff"/><path d="M614.0,1610.7 L614.0,1570.7 Q614.0,1566.7 617.0,1566.7 L620.5,1567.7 L623.5,1572.7 L623.5,1611.7 Z" fill="#7a7a7a"/><rect x="619.7" y="1571.7" width="3.8" height="39.0" fill="#999999"/><path d="M611.0,1613.7 L615.0,1608.7 L617.0,1610.2 L613.0,1615.2 Z" fill="#fff"/><path d="M505.8,1612.9 L505.8,1572.9 Q505.8,1568.9 508.8,1568.9 L512.3,1569.9 L515.3,1574.9 L515.3,1613.9 Z" fill="#7a7a7a"/><rect x="511.5" y="1573.9" width="3.8" height="39.0" fill="#999999"/><path d="M502.8,1615.9 L506.8,1610.9 L508.8,1612.4 L504.8,1617.4 Z" fill="#fff"/><path d="M397.7,1615.1 L397.7,1575.1 Q397.7,1571.1 400.7,1571.1 L404.2,1572.1 L407.2,1577.1 L407.2,1616.1 Z" fill="#7a7a7a"/><rect x="403.4" y="1576.1" width="3.8" height="39.0" fill="#999999"/><path d="M394.7,1618.1 L398.7,1613.1 L400.7,1614.6 L396.7,1619.6 Z" fill="#fff"/><path d="M289.6,1617.3 L289.6,1577.3 Q289.6,1573.3 292.6,1573.3 L296.1,1574.3 L299.1,1579.3 L299.1,1618.3 Z" fill="#7a7a7a"/><rect x="295.3" y="1578.3" width="3.8" height="39.0" fill="#999999"/><path d="M286.6,1620.3 L290.6,1615.3 L292.6,1616.8 L288.6,1621.8 Z" fill="#fff"/><path d="M579.8,1630.1 L579.8,1608.1 Q579.8,1604.1 582.8,1604.1 L586.3,1605.1 L589.3,1610.1 L589.3,1631.1 Z" fill="#7a7a7a"/><rect x="585.5" y="1609.1" width="3.8" height="21.0" fill="#999999"/><path d="M576.8,1633.1 L580.8,1628.1 L582.8,1629.6 L578.8,1634.6 Z" fill="#fff"/><path d="M471.6,1632.3 L471.6,1610.3 Q471.6,1606.3 474.6,1606.3 L478.1,1607.3 L481.1,1612.3 L481.1,1633.3 Z" fill="#7a7a7a"/><rect x="477.3" y="1611.3" width="3.8" height="21.0" fill="#999999"/><path d="M468.6,1635.3 L472.6,1630.3 L474.6,1631.8 L470.6,1636.8 Z" fill="#fff"/><path d="M363.5,1634.5 L363.5,1612.5 Q363.5,1608.5 366.5,1608.5 L370.0,1609.5 L373.0,1614.5 L373.0,1635.5 Z" fill="#7a7a7a"/><rect x="369.2" y="1613.5" width="3.8" height="21.0" fill="#999999"/><path d="M360.5,1637.5 L364.5,1632.5 L366.5,1634.0 L362.5,1639.0 Z" fill="#fff"/><path d="M540.4,1644.7 L540.4,1604.7 Q540.4,1600.7 543.4,1600.7 L546.9,1601.7 L549.9,1606.7 L549.9,1645.7 Z" fill="#7a7a7a"/><rect x="546.1" y="1605.7" width="3.8" height="39.0" fill="#999999"/><path d="M537.4,1647.7 L541.4,1642.7 L543.4,1644.2 L539.4,1649.2 Z" fill="#fff"/><path d="M432.2,1646.9 L432.2,1606.9 Q432.2,1602.9 435.2,1602.9 L438.7,1603.9 L441.7,1608.9 L441.7,1647.9 Z" fill="#7a7a7a"/><rect x="437.9" y="1607.9" width="3.8" height="39.0" fill="#999999"/><path d="M429.2,1649.9 L433.2,1644.9 L435.2,1646.4 L431.2,1651.4 Z" fill="#fff"/><path d="M324.1,1649.1 L324.1,1609.1 Q324.1,1605.1 327.1,1605.1 L330.6,1606.1 L333.6,1611.1 L333.6,1650.1 Z" fill="#7a7a7a"/><rect x="329.8" y="1610.1" width="3.8" height="39.0" fill="#999999"/><path d="M321.1,1652.1 L325.1,1647.1 L327.1,1648.6 L323.1,1653.6 Z" fill="#fff"/><path d="M506.2,1664.1 L506.2,1642.1 Q506.2,1638.1 509.2,1638.1 L512.7,1639.1 L515.7,1644.1 L515.7,1665.1 Z" fill="#7a7a7a"/><rect x="511.9" y="1643.1" width="3.8" height="21.0" fill="#999999"/><path d="M503.2,1667.1 L507.2,1662.1 L509.2,1663.6 L505.2,1668.6 Z" fill="#fff"/><path d="M398.0,1666.3 L398.0,1644.3 Q398.0,1640.3 401.0,1640.3 L404.5,1641.3 L407.5,1646.3 L407.5,1667.3 Z" fill="#7a7a7a"/><rect x="403.7" y="1645.3" width="3.8" height="21.0" fill="#999999"/><path d="M395.0,1669.3 L399.0,1664.3 L401.0,1665.8 L397.0,1670.8 Z" fill="#fff"/><path d="M466.8,1678.7 L466.8,1638.7 Q466.8,1634.7 469.8,1634.7 L473.3,1635.7 L476.3,1640.7 L476.3,1679.7 Z" fill="#7a7a7a"/><rect x="472.5" y="1639.7" width="3.8" height="39.0" fill="#999999"/><path d="M463.8,1681.7 L467.8,1676.7 L469.8,1678.2 L465.8,1683.2 Z" fill="#fff"/><path d="M358.6,1680.9 L358.6,1640.9 Q358.6,1636.9 361.6,1636.9 L365.1,1637.9 L368.1,1642.9 L368.1,1681.9 Z" fill="#7a7a7a"/><rect x="364.3" y="1641.9" width="3.8" height="39.0" fill="#999999"/><path d="M355.6,1683.9 L359.6,1678.9 L361.6,1680.4 L357.6,1685.4 Z" fill="#fff"/><path d="M432.6,1698.1 L432.6,1676.1 Q432.6,1672.1 435.6,1672.1 L439.1,1673.1 L442.1,1678.1 L442.1,1699.1 Z" fill="#7a7a7a"/><rect x="438.3" y="1677.1" width="3.8" height="21.0" fill="#999999"/><path d="M429.6,1701.1 L433.6,1696.1 L435.6,1697.6 L431.6,1702.6 Z" fill="#fff"/><path d="M393.2,1712.7 L393.2,1672.7 Q393.2,1668.7 396.2,1668.7 L399.7,1669.7 L402.7,1674.7 L402.7,1713.7 Z" fill="#7a7a7a"/><rect x="398.9" y="1673.7" width="3.8" height="39.0" fill="#999999"/><path d="M390.2,1715.7 L394.2,1710.7 L396.2,1712.2 L392.2,1717.2 Z" fill="#fff"/></svg>
<svg style="left:840px;top:1370px" width="540" height="360" viewBox="840 1370 540 360"><defs><clipPath id="c4b"><polygon points="856.6,1616.0 913.2,1588.0 928.0,1580.0 963.0,1564.7 992.0,1551.0 1008.0,1540.0 1042.8,1525.6 1072.8,1512.0 1088.0,1503.0 1121.0,1488.0 1153.4,1478.0 1168.6,1464.0 1201.6,1450.5 1232.0,1440.0 1247.0,1424.6 1268.6,1431.8 1291.8,1449.6 1322.0,1464.0 1334.6,1472.0 1365.0,1492.5 1365.0,1492.5 1279.3,1537.0 1197.0,1572.9 1125.7,1610.4 1090.0,1624.6 1006.0,1661.0 973.0,1677.8 939.8,1662.0 913.0,1650.0 896.5,1643.0 873.0,1631.0"/></clipPath></defs><polygon points="856.6,1616.0 913.2,1588.0 928.0,1580.0 963.0,1564.7 992.0,1551.0 1008.0,1540.0 1042.8,1525.6 1072.8,1512.0 1088.0,1503.0 1121.0,1488.0 1153.4,1478.0 1168.6,1464.0 1201.6,1450.5 1232.0,1440.0 1247.0,1424.6 1268.6,1431.8 1291.8,1449.6 1322.0,1464.0 1334.6,1472.0 1365.0,1492.5 1365.0,1492.5 1279.3,1537.0 1197.0,1572.9 1125.7,1610.4 1090.0,1624.6 1006.0,1661.0 973.0,1677.8 939.8,1662.0 913.0,1650.0 896.5,1643.0 873.0,1631.0" fill="#8e8e8e"/><path d="M862,1628 l-6,-4 l4,-4 l8,5 z" fill="#7a7a7a"/><path d="M880,1641 l-6,-4 l4,-4 l8,5 z" fill="#7a7a7a"/><path d="M903,1652 l-6,-4 l4,-4 l8,5 z" fill="#7a7a7a"/><path d="M926,1664 l-6,-4 l4,-4 l8,5 z" fill="#7a7a7a"/><path d="M950,1676 l-6,-4 l4,-4 l8,5 z" fill="#7a7a7a"/><path d="M913.2,1590 L913.2,1539.5 Q913.2,1536.5 916.2,1536.5 L923.5,1538.5 L926.5,1544.5 L926.5,1590 Z" fill="#8e8e8e"/><line x1="925.0" y1="1546.5" x2="925.0" y2="1584" stroke="#e0e0e0" stroke-width="1.4"/><path d="M992,1553 L992,1501 Q992,1498 995,1498 L1002.4,1500 L1005.4,1506 L1005.4,1553 Z" fill="#8e8e8e"/><line x1="1003.9" y1="1508" x2="1003.9" y2="1547" stroke="#e0e0e0" stroke-width="1.4"/><path d="M1072.8,1514 L1072.8,1463 Q1072.8,1460 1075.8,1460 L1083,1462 L1086,1468 L1086,1514 Z" fill="#8e8e8e"/><line x1="1084.5" y1="1470" x2="1084.5" y2="1508" stroke="#e0e0e0" stroke-width="1.4"/><path d="M1153.4,1480 L1153.4,1425 Q1153.4,1422 1156.4,1422 L1162,1424 L1165,1430 L1165,1480 Z" fill="#8e8e8e"/><line x1="1163.5" y1="1432" x2="1163.5" y2="1474" stroke="#e0e0e0" stroke-width="1.4"/><path d="M1232,1442 L1232,1387.5 Q1232,1384.5 1235,1384.5 L1242.4,1386.5 L1245.4,1392.5 L1245.4,1442 Z" fill="#8e8e8e"/><line x1="1243.9" y1="1394.5" x2="1243.9" y2="1436" stroke="#e0e0e0" stroke-width="1.4"/><path d="M1277.5,1445 L1277.5,1414 Q1277.5,1411 1280.5,1411 L1286,1413 L1289,1419 L1289,1445 Z" fill="#8e8e8e"/><line x1="1287.5" y1="1421" x2="1287.5" y2="1439" stroke="#e0e0e0" stroke-width="1.4"/><path d="M1322,1470 L1322,1442 Q1322,1439 1325,1439 L1331.6,1441 L1334.6,1447 L1334.6,1470 Z" fill="#8e8e8e"/><line x1="1333.1" y1="1449" x2="1333.1" y2="1464" stroke="#e0e0e0" stroke-width="1.4"/><path d="M913,1640 L914,1681.4 L918,1689.4 L926,1686.4 L928,1681.4 L927,1640 Z" fill="#8e8e8e"/><ellipse cx="921.5" cy="1685.4" rx="4" ry="3" fill="#555"/><line x1="916" y1="1644" x2="916" y2="1677.4" stroke="#d8d8d8" stroke-width="1.2"/><path d="M958,1665 L959,1708 L963,1716 L971,1713 L973,1708 L972,1665 Z" fill="#8e8e8e"/><ellipse cx="966.5" cy="1712.0" rx="4" ry="3" fill="#555"/><line x1="961" y1="1669" x2="961" y2="1704" stroke="#d8d8d8" stroke-width="1.2"/><path d="M1037,1646 L1038,1670 L1042,1678 L1049,1675 L1051,1670 L1050,1646 Z" fill="#8e8e8e"/><ellipse cx="1045.0" cy="1674.0" rx="4" ry="3" fill="#555"/><line x1="1040" y1="1650" x2="1040" y2="1666" stroke="#d8d8d8" stroke-width="1.2"/><path d="M1118.6,1606 L1119.6,1632.7 L1123.6,1640.7 L1130.9,1637.7 L1132.9,1632.7 L1131.9,1606 Z" fill="#8e8e8e"/><ellipse cx="1126.8" cy="1636.7" rx="4" ry="3" fill="#555"/><line x1="1121.6" y1="1610" x2="1121.6" y2="1628.7" stroke="#d8d8d8" stroke-width="1.2"/><path d="M1198,1570 L1199,1595.2 L1203,1603.2 L1211,1600.2 L1213,1595.2 L1212,1570 Z" fill="#8e8e8e"/><ellipse cx="1206.5" cy="1599.2" rx="4" ry="3" fill="#555"/><line x1="1201" y1="1574" x2="1201" y2="1591.2" stroke="#d8d8d8" stroke-width="1.2"/><path d="M1278.4,1533 L1279.4,1556 L1283.4,1564 L1290.7,1561 L1292.7,1556 L1291.7,1533 Z" fill="#8e8e8e"/><ellipse cx="1286.6" cy="1560.0" rx="4" ry="3" fill="#555"/><line x1="1281.4" y1="1537" x2="1281.4" y2="1552" stroke="#d8d8d8" stroke-width="1.2"/><g clip-path="url(#c4b)"><polygon points="858.2,1666.6 889.2,1659.6 890.2,1667.6 859.2,1674.6" fill="#fdfdfd"/><line x1="858.2" y1="1669.6" x2="861.2" y2="1671.6" stroke="#5a5a5a" stroke-width="2.2"/><polygon points="924.4,1649.9 960.4,1634.9 961.4,1642.9 925.4,1657.9" fill="#fdfdfd"/><line x1="924.4" y1="1652.9" x2="927.4" y2="1654.9" stroke="#5a5a5a" stroke-width="2.2"/><polygon points="886.4,1677.9 921.8,1664.7 922.8,1672.7 887.4,1685.9" fill="#fdfdfd"/><line x1="886.4" y1="1680.9" x2="889.4" y2="1682.9" stroke="#5a5a5a" stroke-width="2.2"/><polygon points="881.9,1710.4 930.6,1691.3 931.6,1699.3 882.9,1718.4" fill="#fdfdfd"/><line x1="881.9" y1="1713.4" x2="884.9" y2="1715.4" stroke="#5a5a5a" stroke-width="2.2"/><polygon points="936.4,1628.9 967.4,1621.9 968.4,1629.9 937.4,1636.9" fill="#fdfdfd"/><line x1="936.4" y1="1631.9" x2="939.4" y2="1633.9" stroke="#5a5a5a" stroke-width="2.2"/><polygon points="921.8,1617.4 960.2,1602.6 961.2,1610.6 922.8,1625.4" fill="#fdfdfd"/><line x1="921.8" y1="1620.4" x2="924.8" y2="1622.4" stroke="#5a5a5a" stroke-width="2.2"/><polygon points="895.2,1604.1 923.3,1595.2 924.3,1603.2 896.2,1612.1" fill="#fdfdfd"/><line x1="895.2" y1="1607.1" x2="898.2" y2="1609.1" stroke="#5a5a5a" stroke-width="2.2"/><line x1="889.4" y1="1604.9" x2="892.4" y2="1662.9" stroke="#f8f8f8" stroke-width="3.2"/><line x1="858.4" y1="1677.9" x2="861.4" y2="1724.9" stroke="#f8f8f8" stroke-width="3.2"/><ellipse cx="874.4" cy="1617.4" rx="4" ry="2.6" fill="#fafafa"/><circle cx="870.4" cy="1618.4" r="1.6" fill="#555"/><ellipse cx="864.4" cy="1671.9" rx="4" ry="2.6" fill="#fafafa"/><circle cx="860.4" cy="1672.9" r="1.6" fill="#555"/><polygon points="1002.6,1612.2 1038.6,1597.2 1039.6,1605.2 1003.6,1620.2" fill="#fdfdfd"/><line x1="1002.6" y1="1615.2" x2="1005.6" y2="1617.2" stroke="#5a5a5a" stroke-width="2.2"/><polygon points="918.8,1616.7 958.6,1603.2 959.6,1611.2 919.8,1624.7" fill="#fdfdfd"/><line x1="918.8" y1="1619.7" x2="921.8" y2="1621.7" stroke="#5a5a5a" stroke-width="2.2"/><polygon points="964.6,1640.2 1000.0,1627.0 1001.0,1635.0 965.6,1648.2" fill="#fdfdfd"/><line x1="964.6" y1="1643.2" x2="967.6" y2="1645.2" stroke="#5a5a5a" stroke-width="2.2"/><polygon points="960.1,1672.7 1008.8,1653.6 1009.8,1661.6 961.1,1680.7" fill="#fdfdfd"/><line x1="960.1" y1="1675.7" x2="963.1" y2="1677.7" stroke="#5a5a5a" stroke-width="2.2"/><polygon points="1014.6,1591.2 1045.6,1584.2 1046.6,1592.2 1015.6,1599.2" fill="#fdfdfd"/><line x1="1014.6" y1="1594.2" x2="1017.6" y2="1596.2" stroke="#5a5a5a" stroke-width="2.2"/><polygon points="1000.0,1579.7 1038.4,1564.9 1039.4,1572.9 1001.0,1587.7" fill="#fdfdfd"/><line x1="1000.0" y1="1582.7" x2="1003.0" y2="1584.7" stroke="#5a5a5a" stroke-width="2.2"/><polygon points="973.4,1566.4 1001.5,1557.5 1002.5,1565.5 974.4,1574.4" fill="#fdfdfd"/><line x1="973.4" y1="1569.4" x2="976.4" y2="1571.4" stroke="#5a5a5a" stroke-width="2.2"/><line x1="967.6" y1="1567.2" x2="970.6" y2="1625.2" stroke="#f8f8f8" stroke-width="3.2"/><line x1="936.6" y1="1640.2" x2="939.6" y2="1687.2" stroke="#f8f8f8" stroke-width="3.2"/><ellipse cx="952.6" cy="1579.7" rx="4" ry="2.6" fill="#fafafa"/><circle cx="948.6" cy="1580.7" r="1.6" fill="#555"/><ellipse cx="942.6" cy="1634.2" rx="4" ry="2.6" fill="#fafafa"/><circle cx="938.6" cy="1635.2" r="1.6" fill="#555"/><polygon points="1080.8,1574.5 1116.8,1559.5 1117.8,1567.5 1081.8,1582.5" fill="#fdfdfd"/><line x1="1080.8" y1="1577.5" x2="1083.8" y2="1579.5" stroke="#5a5a5a" stroke-width="2.2"/><polygon points="997.0,1579.0 1036.8,1565.5 1037.8,1573.5 998.0,1587.0" fill="#fdfdfd"/><line x1="997.0" y1="1582.0" x2="1000.0" y2="1584.0" stroke="#5a5a5a" stroke-width="2.2"/><polygon points="1042.8,1602.5 1078.2,1589.3 1079.2,1597.3 1043.8,1610.5" fill="#fdfdfd"/><line x1="1042.8" y1="1605.5" x2="1045.8" y2="1607.5" stroke="#5a5a5a" stroke-width="2.2"/><polygon points="1038.3,1635.0 1087.0,1615.9 1088.0,1623.9 1039.3,1643.0" fill="#fdfdfd"/><line x1="1038.3" y1="1638.0" x2="1041.3" y2="1640.0" stroke="#5a5a5a" stroke-width="2.2"/><polygon points="1092.8,1553.5 1123.8,1546.5 1124.8,1554.5 1093.8,1561.5" fill="#fdfdfd"/><line x1="1092.8" y1="1556.5" x2="1095.8" y2="1558.5" stroke="#5a5a5a" stroke-width="2.2"/><polygon points="1078.2,1542.0 1116.6,1527.2 1117.6,1535.2 1079.2,1550.0" fill="#fdfdfd"/><line x1="1078.2" y1="1545.0" x2="1081.2" y2="1547.0" stroke="#5a5a5a" stroke-width="2.2"/><polygon points="1051.6,1528.7 1079.7,1519.8 1080.7,1527.8 1052.6,1536.7" fill="#fdfdfd"/><line x1="1051.6" y1="1531.7" x2="1054.6" y2="1533.7" stroke="#5a5a5a" stroke-width="2.2"/><line x1="1045.8" y1="1529.5" x2="1048.8" y2="1587.5" stroke="#f8f8f8" stroke-width="3.2"/><line x1="1014.8" y1="1602.5" x2="1017.8" y2="1649.5" stroke="#f8f8f8" stroke-width="3.2"/><ellipse cx="1030.8" cy="1542.0" rx="4" ry="2.6" fill="#fafafa"/><circle cx="1026.8" cy="1543.0" r="1.6" fill="#555"/><ellipse cx="1020.8" cy="1596.5" rx="4" ry="2.6" fill="#fafafa"/><circle cx="1016.8" cy="1597.5" r="1.6" fill="#555"/><polygon points="1159.0,1536.8 1195.0,1521.8 1196.0,1529.8 1160.0,1544.8" fill="#fdfdfd"/><line x1="1159.0" y1="1539.8" x2="1162.0" y2="1541.8" stroke="#5a5a5a" stroke-width="2.2"/><polygon points="1075.2,1541.3 1115.0,1527.8 1116.0,1535.8 1076.2,1549.3" fill="#fdfdfd"/><line x1="1075.2" y1="1544.3" x2="1078.2" y2="1546.3" stroke="#5a5a5a" stroke-width="2.2"/><polygon points="1121.0,1564.8 1156.4,1551.6 1157.4,1559.6 1122.0,1572.8" fill="#fdfdfd"/><line x1="1121.0" y1="1567.8" x2="1124.0" y2="1569.8" stroke="#5a5a5a" stroke-width="2.2"/><polygon points="1116.5,1597.3 1165.2,1578.2 1166.2,1586.2 1117.5,1605.3" fill="#fdfdfd"/><line x1="1116.5" y1="1600.3" x2="1119.5" y2="1602.3" stroke="#5a5a5a" stroke-width="2.2"/><polygon points="1171.0,1515.8 1202.0,1508.8 1203.0,1516.8 1172.0,1523.8" fill="#fdfdfd"/><line x1="1171.0" y1="1518.8" x2="1174.0" y2="1520.8" stroke="#5a5a5a" stroke-width="2.2"/><polygon points="1156.4,1504.3 1194.8,1489.5 1195.8,1497.5 1157.4,1512.3" fill="#fdfdfd"/><line x1="1156.4" y1="1507.3" x2="1159.4" y2="1509.3" stroke="#5a5a5a" stroke-width="2.2"/><polygon points="1129.8,1491.0 1157.9,1482.1 1158.9,1490.1 1130.8,1499.0" fill="#fdfdfd"/><line x1="1129.8" y1="1494.0" x2="1132.8" y2="1496.0" stroke="#5a5a5a" stroke-width="2.2"/><line x1="1124.0" y1="1491.8" x2="1127.0" y2="1549.8" stroke="#f8f8f8" stroke-width="3.2"/><line x1="1093.0" y1="1564.8" x2="1096.0" y2="1611.8" stroke="#f8f8f8" stroke-width="3.2"/><ellipse cx="1109.0" cy="1504.3" rx="4" ry="2.6" fill="#fafafa"/><circle cx="1105.0" cy="1505.3" r="1.6" fill="#555"/><ellipse cx="1099.0" cy="1558.8" rx="4" ry="2.6" fill="#fafafa"/><circle cx="1095.0" cy="1559.8" r="1.6" fill="#555"/><polygon points="1237.2,1499.1 1273.2,1484.1 1274.2,1492.1 1238.2,1507.1" fill="#fdfdfd"/><line x1="1237.2" y1="1502.1" x2="1240.2" y2="1504.1" stroke="#5a5a5a" stroke-width="2.2"/><polygon points="1153.4,1503.6 1193.2,1490.1 1194.2,1498.1 1154.4,1511.6" fill="#fdfdfd"/><line x1="1153.4" y1="1506.6" x2="1156.4" y2="1508.6" stroke="#5a5a5a" stroke-width="2.2"/><polygon points="1199.2,1527.1 1234.6,1513.9 1235.6,1521.9 1200.2,1535.1" fill="#fdfdfd"/><line x1="1199.2" y1="1530.1" x2="1202.2" y2="1532.1" stroke="#5a5a5a" stroke-width="2.2"/><polygon points="1194.7,1559.6 1243.4,1540.5 1244.4,1548.5 1195.7,1567.6" fill="#fdfdfd"/><line x1="1194.7" y1="1562.6" x2="1197.7" y2="1564.6" stroke="#5a5a5a" stroke-width="2.2"/><polygon points="1249.2,1478.1 1280.2,1471.1 1281.2,1479.1 1250.2,1486.1" fill="#fdfdfd"/><line x1="1249.2" y1="1481.1" x2="1252.2" y2="1483.1" stroke="#5a5a5a" stroke-width="2.2"/><polygon points="1234.6,1466.6 1273.0,1451.8 1274.0,1459.8 1235.6,1474.6" fill="#fdfdfd"/><line x1="1234.6" y1="1469.6" x2="1237.6" y2="1471.6" stroke="#5a5a5a" stroke-width="2.2"/><polygon points="1208.0,1453.3 1236.1,1444.4 1237.1,1452.4 1209.0,1461.3" fill="#fdfdfd"/><line x1="1208.0" y1="1456.3" x2="1211.0" y2="1458.3" stroke="#5a5a5a" stroke-width="2.2"/><line x1="1202.2" y1="1454.1" x2="1205.2" y2="1512.1" stroke="#f8f8f8" stroke-width="3.2"/><line x1="1171.2" y1="1527.1" x2="1174.2" y2="1574.1" stroke="#f8f8f8" stroke-width="3.2"/><ellipse cx="1187.2" cy="1466.6" rx="4" ry="2.6" fill="#fafafa"/><circle cx="1183.2" cy="1467.6" r="1.6" fill="#555"/><ellipse cx="1177.2" cy="1521.1" rx="4" ry="2.6" fill="#fafafa"/><circle cx="1173.2" cy="1522.1" r="1.6" fill="#555"/><polygon points="1315.4,1461.4 1351.4,1446.4 1352.4,1454.4 1316.4,1469.4" fill="#fdfdfd"/><line x1="1315.4" y1="1464.4" x2="1318.4" y2="1466.4" stroke="#5a5a5a" stroke-width="2.2"/><polygon points="1231.6,1465.9 1271.4,1452.4 1272.4,1460.4 1232.6,1473.9" fill="#fdfdfd"/><line x1="1231.6" y1="1468.9" x2="1234.6" y2="1470.9" stroke="#5a5a5a" stroke-width="2.2"/><polygon points="1277.4,1489.4 1312.8,1476.2 1313.8,1484.2 1278.4,1497.4" fill="#fdfdfd"/><line x1="1277.4" y1="1492.4" x2="1280.4" y2="1494.4" stroke="#5a5a5a" stroke-width="2.2"/><polygon points="1272.9,1521.9 1321.6,1502.8 1322.6,1510.8 1273.9,1529.9" fill="#fdfdfd"/><line x1="1272.9" y1="1524.9" x2="1275.9" y2="1526.9" stroke="#5a5a5a" stroke-width="2.2"/><polygon points="1327.4,1440.4 1358.4,1433.4 1359.4,1441.4 1328.4,1448.4" fill="#fdfdfd"/><line x1="1327.4" y1="1443.4" x2="1330.4" y2="1445.4" stroke="#5a5a5a" stroke-width="2.2"/><polygon points="1312.8,1428.9 1351.2,1414.1 1352.2,1422.1 1313.8,1436.9" fill="#fdfdfd"/><line x1="1312.8" y1="1431.9" x2="1315.8" y2="1433.9" stroke="#5a5a5a" stroke-width="2.2"/><polygon points="1286.2,1415.6 1314.3,1406.7 1315.3,1414.7 1287.2,1423.6" fill="#fdfdfd"/><line x1="1286.2" y1="1418.6" x2="1289.2" y2="1420.6" stroke="#5a5a5a" stroke-width="2.2"/><line x1="1280.4" y1="1416.4" x2="1283.4" y2="1474.4" stroke="#f8f8f8" stroke-width="3.2"/><line x1="1249.4" y1="1489.4" x2="1252.4" y2="1536.4" stroke="#f8f8f8" stroke-width="3.2"/><ellipse cx="1265.4" cy="1428.9" rx="4" ry="2.6" fill="#fafafa"/><circle cx="1261.4" cy="1429.9" r="1.6" fill="#555"/><ellipse cx="1255.4" cy="1483.4" rx="4" ry="2.6" fill="#fafafa"/><circle cx="1251.4" cy="1484.4" r="1.6" fill="#555"/><polygon points="1309.8,1428.2 1349.6,1414.7 1350.6,1422.7 1310.8,1436.2" fill="#fdfdfd"/><line x1="1309.8" y1="1431.2" x2="1312.8" y2="1433.2" stroke="#5a5a5a" stroke-width="2.2"/><line x1="1327.6" y1="1451.7" x2="1330.6" y2="1498.7" stroke="#f8f8f8" stroke-width="3.2"/><ellipse cx="1343.6" cy="1391.2" rx="4" ry="2.6" fill="#fafafa"/><circle cx="1339.6" cy="1392.2" r="1.6" fill="#555"/><ellipse cx="1333.6" cy="1445.7" rx="4" ry="2.6" fill="#fafafa"/><circle cx="1329.6" cy="1446.7" r="1.6" fill="#555"/></g></svg>


<div class="t" id="l4a" style="left:449.9px;top:1759.8px;">а)</div>
<div class="t" id="l4b" style="left:1128.2px;top:1759.6px;">б)</div>
<div class="t" id="c4" style="left:548.5px;top:1825.4px;">Рисунок 4 — Направление зубьев в МЗП</div>

<div class="t b" id="h4" style="left:188.3px;top:1903.3px;">А.4 Типы МЗП по расположению зубьев на пластине</div>
<div class="t" id="p6" style="left:188.6px;top:1940.8px;word-spacing:0.508px;">Допускается однонаправленное (рисунок 5 а)) или двунаправленное (рисунок 5 б)) расположение зубьев на</div>
<div class="t" id="p7" style="left:118px;top:1972.1px;">пластине.</div>

<div class="t" id="pg" style="right:197.3px;top:2113.3px;">5</div>
</body>
</html>
